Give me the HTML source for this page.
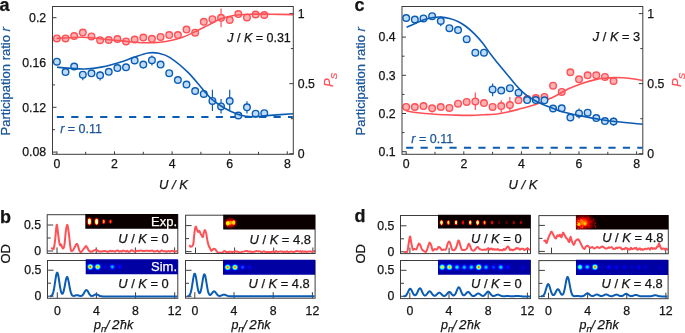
<!DOCTYPE html><html><head><meta charset="utf-8"><style>html,body{margin:0;padding:0;background:#fff;overflow:hidden}svg{display:block;will-change:transform}text{font-family:"Liberation Sans",sans-serif}</style></head><body><svg width="685" height="333" viewBox="0 0 685 333" font-family="&quot;Liberation Sans&quot;, sans-serif"><defs><filter id="fhot" x="-5%" y="-20%" width="110%" height="140%" color-interpolation-filters="sRGB"><feGaussianBlur stdDeviation="0.75"/><feComponentTransfer><feFuncR type="table" tableValues="0.042 0.124 0.206 0.288 0.370 0.452 0.534 0.616 0.698 0.780 0.862 0.944 1.000 1.000 1.000 1.000 1.000 1.000 1.000 1.000 1.000 1.000 1.000 1.000 1.000 1.000 1.000 1.000 1.000 1.000 1.000 1.000 1.000"/><feFuncG type="table" tableValues="0.000 0.000 0.000 0.000 0.000 0.000 0.000 0.000 0.000 0.000 0.000 0.000 0.027 0.110 0.193 0.277 0.360 0.443 0.527 0.610 0.693 0.777 0.860 0.943 1.000 1.000 1.000 1.000 1.000 1.000 1.000 1.000 1.000"/><feFuncB type="table" tableValues="0.000 0.000 0.000 0.000 0.000 0.000 0.000 0.000 0.000 0.000 0.000 0.000 0.000 0.000 0.000 0.000 0.000 0.000 0.000 0.000 0.000 0.000 0.000 0.000 0.038 0.159 0.279 0.399 0.519 0.639 0.760 0.880 1.000"/></feComponentTransfer></filter><filter id="fjet" x="-5%" y="-20%" width="110%" height="140%" color-interpolation-filters="sRGB"><feGaussianBlur stdDeviation="0.9"/><feComponentTransfer><feFuncR type="table" tableValues="0.000 0.000 0.000 0.000 0.000 0.000 0.000 0.000 0.000 0.000 0.000 0.000 0.087 0.208 0.329 0.449 0.570 0.691 0.811 0.932 1.000 1.000 1.000 1.000 1.000 1.000 1.000 1.000 0.982 0.862 0.741 0.621 0.500"/><feFuncG type="table" tableValues="0.000 0.000 0.000 0.002 0.123 0.243 0.364 0.484 0.605 0.726 0.846 0.967 1.000 1.000 1.000 1.000 1.000 1.000 1.000 1.000 0.947 0.827 0.706 0.586 0.465 0.344 0.224 0.103 0.000 0.000 0.000 0.000 0.000"/><feFuncB type="table" tableValues="0.640 0.761 0.881 1.000 1.000 1.000 1.000 1.000 1.000 1.000 1.000 1.000 0.913 0.792 0.671 0.551 0.430 0.309 0.189 0.068 0.000 0.000 0.000 0.000 0.000 0.000 0.000 0.000 0.000 0.000 0.000 0.000 0.000"/></feComponentTransfer></filter><clipPath id="ic1"><rect x="85.3" y="214.1" width="92.6" height="14.6"/></clipPath><clipPath id="ic2"><rect x="85.7" y="259.2" width="92.2" height="15.0"/></clipPath><clipPath id="ic3"><rect x="223.2" y="214.8" width="91.9" height="14.8"/></clipPath><clipPath id="ic4"><rect x="223.0" y="259.8" width="92.1" height="14.9"/></clipPath><clipPath id="ic5"><rect x="438.0" y="214.8" width="92.5" height="13.8"/></clipPath><clipPath id="ic6"><rect x="438.0" y="259.8" width="92.5" height="15.0"/></clipPath><clipPath id="ic7"><rect x="575.9" y="215.0" width="92.4" height="14.5"/></clipPath><clipPath id="ic8"><rect x="576.0" y="259.8" width="92.1" height="15.1"/></clipPath></defs>
<text x="46.2" y="22.0" font-size="12.3" text-anchor="end" fill="#141414" stroke="#141414" stroke-width="0.25">0.2</text>
<text x="46.2" y="66.8" font-size="12.3" text-anchor="end" fill="#141414" stroke="#141414" stroke-width="0.25">0.16</text>
<text x="46.2" y="111.6" font-size="12.3" text-anchor="end" fill="#141414" stroke="#141414" stroke-width="0.25">0.12</text>
<text x="46.2" y="156.4" font-size="12.3" text-anchor="end" fill="#141414" stroke="#141414" stroke-width="0.25">0.08</text>
<text x="297.8" y="17.9" font-size="12.3" text-anchor="start" fill="#141414" stroke="#141414" stroke-width="0.25">1</text>
<text x="297.8" y="87.95" font-size="12.3" text-anchor="start" fill="#141414" stroke="#141414" stroke-width="0.25">0.5</text>
<text x="297.8" y="158.0" font-size="12.3" text-anchor="start" fill="#141414" stroke="#141414" stroke-width="0.25">0</text>
<text x="56.9" y="168.4" font-size="12.3" text-anchor="middle" fill="#141414" stroke="#141414" stroke-width="0.25">0</text>
<text x="114.5" y="168.4" font-size="12.3" text-anchor="middle" fill="#141414" stroke="#141414" stroke-width="0.25">2</text>
<text x="172.1" y="168.4" font-size="12.3" text-anchor="middle" fill="#141414" stroke="#141414" stroke-width="0.25">4</text>
<text x="229.7" y="168.4" font-size="12.3" text-anchor="middle" fill="#141414" stroke="#141414" stroke-width="0.25">6</text>
<text x="287.3" y="168.4" font-size="12.3" text-anchor="middle" fill="#141414" stroke="#141414" stroke-width="0.25">8</text>
<path d="M52.5,17.7 h4 M52.5,62.5 h4 M52.5,107.3 h4 M52.5,152.1 h4 M52.5,40.1 h2.5 M52.5,84.9 h2.5 M52.5,129.7 h2.5 M293.3,13.6 h-4 M293.3,83.65 h-4 M293.3,153.7 h-4 M293.3,48.6 h-2.5 M293.3,118.7 h-2.5 M56.90,154.3 v-3 M85.70,154.3 v-2.5 M114.50,154.3 v-3 M143.30,154.3 v-2.5 M172.10,154.3 v-3 M200.90,154.3 v-2.5 M229.70,154.3 v-3 M258.50,154.3 v-2.5 M287.30,154.3 v-3" stroke="#3c3c3c" stroke-width="1" fill="none"/>
<path d="M56.80,117.0 H292.8" stroke="#0b5cb3" stroke-width="2" stroke-dasharray="7.2 7.25" fill="none"/>
<circle cx="56.90" cy="38.4" r="3.3" fill="#ffb1b4" stroke="#ff5055" stroke-width="1.4"/><circle cx="65.54" cy="38.4" r="3.3" fill="#ffb1b4" stroke="#ff5055" stroke-width="1.4"/><circle cx="74.18" cy="36.0" r="3.3" fill="#ffb1b4" stroke="#ff5055" stroke-width="1.4"/><circle cx="82.82" cy="32.6" r="3.3" fill="#ffb1b4" stroke="#ff5055" stroke-width="1.4"/><circle cx="91.46" cy="36.4" r="3.3" fill="#ffb1b4" stroke="#ff5055" stroke-width="1.4"/><circle cx="100.10" cy="40.2" r="3.3" fill="#ffb1b4" stroke="#ff5055" stroke-width="1.4"/><circle cx="108.74" cy="40.0" r="3.3" fill="#ffb1b4" stroke="#ff5055" stroke-width="1.4"/><circle cx="117.38" cy="39.1" r="3.3" fill="#ffb1b4" stroke="#ff5055" stroke-width="1.4"/><circle cx="126.02" cy="41.4" r="3.3" fill="#ffb1b4" stroke="#ff5055" stroke-width="1.4"/><circle cx="134.66" cy="39.6" r="3.3" fill="#ffb1b4" stroke="#ff5055" stroke-width="1.4"/><circle cx="143.30" cy="37.5" r="3.3" fill="#ffb1b4" stroke="#ff5055" stroke-width="1.4"/><circle cx="151.94" cy="38.8" r="3.3" fill="#ffb1b4" stroke="#ff5055" stroke-width="1.4"/><circle cx="160.58" cy="36.9" r="3.3" fill="#ffb1b4" stroke="#ff5055" stroke-width="1.4"/><circle cx="169.22" cy="35.1" r="3.3" fill="#ffb1b4" stroke="#ff5055" stroke-width="1.4"/><circle cx="177.86" cy="35.1" r="3.3" fill="#ffb1b4" stroke="#ff5055" stroke-width="1.4"/><circle cx="186.50" cy="29.6" r="3.3" fill="#ffb1b4" stroke="#ff5055" stroke-width="1.4"/><circle cx="195.14" cy="32.7" r="3.3" fill="#ffb1b4" stroke="#ff5055" stroke-width="1.4"/><circle cx="203.78" cy="21.8" r="3.3" fill="#ffb1b4" stroke="#ff5055" stroke-width="1.4"/><circle cx="212.42" cy="19.2" r="3.3" fill="#ffb1b4" stroke="#ff5055" stroke-width="1.4"/><path d="M221.06,8.6 V27.3" stroke="#ff5055" stroke-width="1.2"/><circle cx="221.06" cy="17.8" r="3.3" fill="#ffb1b4" stroke="#ff5055" stroke-width="1.4"/><circle cx="229.70" cy="20.1" r="3.3" fill="#ffb1b4" stroke="#ff5055" stroke-width="1.4"/><circle cx="238.34" cy="14.1" r="3.3" fill="#ffb1b4" stroke="#ff5055" stroke-width="1.4"/><circle cx="246.98" cy="17.4" r="3.3" fill="#ffb1b4" stroke="#ff5055" stroke-width="1.4"/><circle cx="255.62" cy="14.5" r="3.3" fill="#ffb1b4" stroke="#ff5055" stroke-width="1.4"/><circle cx="264.26" cy="15.0" r="3.3" fill="#ffb1b4" stroke="#ff5055" stroke-width="1.4"/>
<path d="M56.70,38.40 C58.87,38.28 65.35,37.90 69.70,37.70 C74.05,37.50 78.42,37.10 82.80,37.20 C87.18,37.30 91.63,37.88 96.00,38.30 C100.37,38.72 104.62,39.27 109.00,39.70 C113.38,40.13 117.97,40.48 122.30,40.90 C126.63,41.32 130.80,41.90 135.00,42.20 C139.20,42.50 143.33,42.70 147.50,42.70 C151.67,42.70 155.92,42.62 160.00,42.20 C164.08,41.78 168.23,41.03 172.00,40.20 C175.77,39.37 178.50,38.73 182.60,37.20 C186.70,35.67 192.23,33.05 196.60,31.00 C200.97,28.95 204.72,26.93 208.80,24.90 C212.88,22.87 216.72,20.40 221.10,18.80 C225.48,17.20 230.28,16.07 235.10,15.30 C239.92,14.53 244.18,14.38 250.00,14.20 C255.82,14.02 262.83,14.13 270.00,14.20 C277.17,14.27 289.17,14.53 293.00,14.60" stroke="#ff5055" stroke-width="1.6" fill="none"/>
<circle cx="56.90" cy="61.7" r="3.3" fill="#bddbfd" stroke="#0b5cb3" stroke-width="1.4"/><circle cx="65.54" cy="72.1" r="3.3" fill="#bddbfd" stroke="#0b5cb3" stroke-width="1.4"/><circle cx="74.18" cy="66.5" r="3.3" fill="#bddbfd" stroke="#0b5cb3" stroke-width="1.4"/><path d="M82.82,71.3 V80.2" stroke="#0b5cb3" stroke-width="1.2"/><circle cx="82.82" cy="74.7" r="3.3" fill="#bddbfd" stroke="#0b5cb3" stroke-width="1.4"/><circle cx="91.46" cy="73.3" r="3.3" fill="#bddbfd" stroke="#0b5cb3" stroke-width="1.4"/><path d="M100.10,71.3 V80.6" stroke="#0b5cb3" stroke-width="1.2"/><circle cx="100.10" cy="75.3" r="3.3" fill="#bddbfd" stroke="#0b5cb3" stroke-width="1.4"/><circle cx="108.74" cy="71.8" r="3.3" fill="#bddbfd" stroke="#0b5cb3" stroke-width="1.4"/><circle cx="117.38" cy="68.1" r="3.3" fill="#bddbfd" stroke="#0b5cb3" stroke-width="1.4"/><circle cx="126.02" cy="67.3" r="3.3" fill="#bddbfd" stroke="#0b5cb3" stroke-width="1.4"/><circle cx="134.66" cy="60.4" r="3.3" fill="#bddbfd" stroke="#0b5cb3" stroke-width="1.4"/><path d="M143.30,61.6 V68.6" stroke="#0b5cb3" stroke-width="1.2"/><circle cx="143.30" cy="64.6" r="3.3" fill="#bddbfd" stroke="#0b5cb3" stroke-width="1.4"/><path d="M151.94,55.4 V65.4" stroke="#0b5cb3" stroke-width="1.2"/><circle cx="151.94" cy="60.2" r="3.3" fill="#bddbfd" stroke="#0b5cb3" stroke-width="1.4"/><circle cx="160.58" cy="64.6" r="3.3" fill="#bddbfd" stroke="#0b5cb3" stroke-width="1.4"/><circle cx="169.22" cy="73.2" r="3.3" fill="#bddbfd" stroke="#0b5cb3" stroke-width="1.4"/><circle cx="177.86" cy="80.0" r="3.3" fill="#bddbfd" stroke="#0b5cb3" stroke-width="1.4"/><circle cx="186.50" cy="84.6" r="3.3" fill="#bddbfd" stroke="#0b5cb3" stroke-width="1.4"/><circle cx="195.14" cy="91.0" r="3.3" fill="#bddbfd" stroke="#0b5cb3" stroke-width="1.4"/><circle cx="203.78" cy="93.9" r="3.3" fill="#bddbfd" stroke="#0b5cb3" stroke-width="1.4"/><path d="M212.42,89.7 V111" stroke="#0b5cb3" stroke-width="1.2"/><circle cx="212.42" cy="100.9" r="3.3" fill="#bddbfd" stroke="#0b5cb3" stroke-width="1.4"/><path d="M221.06,99.1 V113.4" stroke="#0b5cb3" stroke-width="1.2"/><circle cx="221.06" cy="106.4" r="3.3" fill="#bddbfd" stroke="#0b5cb3" stroke-width="1.4"/><path d="M229.70,89.7 V110" stroke="#0b5cb3" stroke-width="1.2"/><circle cx="229.70" cy="101.0" r="3.3" fill="#bddbfd" stroke="#0b5cb3" stroke-width="1.4"/><circle cx="238.34" cy="115.5" r="3.3" fill="#bddbfd" stroke="#0b5cb3" stroke-width="1.4"/><path d="M246.98,101.3 V113.4" stroke="#0b5cb3" stroke-width="1.2"/><circle cx="246.98" cy="107.3" r="3.3" fill="#bddbfd" stroke="#0b5cb3" stroke-width="1.4"/><circle cx="255.62" cy="113.7" r="3.3" fill="#bddbfd" stroke="#0b5cb3" stroke-width="1.4"/><circle cx="264.26" cy="113.2" r="3.3" fill="#bddbfd" stroke="#0b5cb3" stroke-width="1.4"/>
<path d="M57.00,67.20 C58.75,67.35 62.83,67.80 67.50,68.10 C72.17,68.40 79.15,69.20 85.00,69.00 C90.85,68.80 96.77,68.03 102.60,66.90 C108.43,65.77 114.77,63.80 120.00,62.20 C125.23,60.60 129.33,58.83 134.00,57.30 C138.67,55.77 143.90,53.67 148.00,53.00 C152.10,52.33 154.93,52.53 158.60,53.30 C162.27,54.07 165.10,54.42 170.00,57.60 C174.90,60.78 182.37,66.90 188.00,72.40 C193.63,77.90 199.75,86.05 203.80,90.60 C207.85,95.15 208.82,96.77 212.30,99.70 C215.78,102.63 220.35,105.72 224.70,108.20 C229.05,110.68 234.75,113.23 238.40,114.60 C242.05,115.97 243.70,116.07 246.60,116.40 C249.50,116.73 251.90,116.77 255.80,116.60 C259.70,116.43 263.80,115.87 270.00,115.40 C276.20,114.93 289.17,114.07 293.00,113.80" stroke="#0b5cb3" stroke-width="1.6" fill="none"/>
<rect x="52.5" y="6.5" width="240.80" height="147.80" fill="none" stroke="#3c3c3c" stroke-width="1"/>
<text x="60.2" y="133" font-size="12.5" fill="#1c5699" stroke="#1c5699" stroke-width="0.25"><tspan font-style="italic">r</tspan> = 0.11</text>
<text x="290.8" y="41.9" font-size="12.5" fill="#141414" text-anchor="end" stroke="#141414" stroke-width="0.25"><tspan font-style="italic">J</tspan> / <tspan font-style="italic">K</tspan> = 0.31</text>
<text x="173.40" y="188.6" font-size="13" fill="#141414" text-anchor="middle" font-style="italic" stroke="#141414" stroke-width="0.25">U / K</text>
<text x="395.7" y="41.4" font-size="12.3" text-anchor="end" fill="#141414" stroke="#141414" stroke-width="0.25">0.4</text>
<text x="395.7" y="79.6" font-size="12.3" text-anchor="end" fill="#141414" stroke="#141414" stroke-width="0.25">0.3</text>
<text x="395.7" y="117.8" font-size="12.3" text-anchor="end" fill="#141414" stroke="#141414" stroke-width="0.25">0.2</text>
<text x="395.7" y="156.0" font-size="12.3" text-anchor="end" fill="#141414" stroke="#141414" stroke-width="0.25">0.1</text>
<text x="647.3" y="17.9" font-size="12.3" text-anchor="start" fill="#141414" stroke="#141414" stroke-width="0.25">1</text>
<text x="647.3" y="87.95" font-size="12.3" text-anchor="start" fill="#141414" stroke="#141414" stroke-width="0.25">0.5</text>
<text x="647.3" y="158.0" font-size="12.3" text-anchor="start" fill="#141414" stroke="#141414" stroke-width="0.25">0</text>
<text x="406.2" y="168.4" font-size="12.3" text-anchor="middle" fill="#141414" stroke="#141414" stroke-width="0.25">0</text>
<text x="463.8" y="168.4" font-size="12.3" text-anchor="middle" fill="#141414" stroke="#141414" stroke-width="0.25">2</text>
<text x="521.4" y="168.4" font-size="12.3" text-anchor="middle" fill="#141414" stroke="#141414" stroke-width="0.25">4</text>
<text x="579.0" y="168.4" font-size="12.3" text-anchor="middle" fill="#141414" stroke="#141414" stroke-width="0.25">6</text>
<text x="636.6" y="168.4" font-size="12.3" text-anchor="middle" fill="#141414" stroke="#141414" stroke-width="0.25">8</text>
<path d="M402.0,37.1 h4 M402.0,75.3 h4 M402.0,113.5 h4 M402.0,151.7 h4 M402.0,56.2 h2.5 M402.0,94.4 h2.5 M402.0,132.6 h2.5 M642.8,13.6 h-4 M642.8,83.65 h-4 M642.8,153.7 h-4 M642.8,48.6 h-2.5 M642.8,118.7 h-2.5 M406.20,154.3 v-3 M435.00,154.3 v-2.5 M463.80,154.3 v-3 M492.60,154.3 v-2.5 M521.40,154.3 v-3 M550.20,154.3 v-2.5 M579.00,154.3 v-3 M607.80,154.3 v-2.5 M636.60,154.3 v-3" stroke="#3c3c3c" stroke-width="1" fill="none"/>
<path d="M406.10,147.8 H642.3" stroke="#0b5cb3" stroke-width="2" stroke-dasharray="7.2 7.25" fill="none"/>
<circle cx="406.20" cy="106.9" r="3.3" fill="#ffb1b4" stroke="#ff5055" stroke-width="1.4"/><circle cx="414.84" cy="107.0" r="3.3" fill="#ffb1b4" stroke="#ff5055" stroke-width="1.4"/><circle cx="423.48" cy="106.1" r="3.3" fill="#ffb1b4" stroke="#ff5055" stroke-width="1.4"/><path d="M432.12,104.9 V112.4" stroke="#ff5055" stroke-width="1.2"/><circle cx="432.12" cy="108.3" r="3.3" fill="#ffb1b4" stroke="#ff5055" stroke-width="1.4"/><circle cx="440.76" cy="107.0" r="3.3" fill="#ffb1b4" stroke="#ff5055" stroke-width="1.4"/><circle cx="449.40" cy="107.9" r="3.3" fill="#ffb1b4" stroke="#ff5055" stroke-width="1.4"/><circle cx="458.04" cy="103.7" r="3.3" fill="#ffb1b4" stroke="#ff5055" stroke-width="1.4"/><circle cx="466.68" cy="101.9" r="3.3" fill="#ffb1b4" stroke="#ff5055" stroke-width="1.4"/><path d="M475.32,92.6 V110.1" stroke="#ff5055" stroke-width="1.2"/><circle cx="475.32" cy="101.4" r="3.3" fill="#ffb1b4" stroke="#ff5055" stroke-width="1.4"/><circle cx="483.96" cy="103.1" r="3.3" fill="#ffb1b4" stroke="#ff5055" stroke-width="1.4"/><circle cx="492.60" cy="106.9" r="3.3" fill="#ffb1b4" stroke="#ff5055" stroke-width="1.4"/><path d="M501.24,100.2 V112.8" stroke="#ff5055" stroke-width="1.2"/><circle cx="501.24" cy="106.1" r="3.3" fill="#ffb1b4" stroke="#ff5055" stroke-width="1.4"/><path d="M509.88,97 V111.9" stroke="#ff5055" stroke-width="1.2"/><circle cx="509.88" cy="105.0" r="3.3" fill="#ffb1b4" stroke="#ff5055" stroke-width="1.4"/><circle cx="518.52" cy="100.3" r="3.3" fill="#ffb1b4" stroke="#ff5055" stroke-width="1.4"/><circle cx="527.16" cy="99.0" r="3.3" fill="#ffb1b4" stroke="#ff5055" stroke-width="1.4"/><circle cx="535.80" cy="98.0" r="3.3" fill="#ffb1b4" stroke="#ff5055" stroke-width="1.4"/><circle cx="544.44" cy="96.9" r="3.3" fill="#ffb1b4" stroke="#ff5055" stroke-width="1.4"/><circle cx="553.08" cy="85.7" r="3.3" fill="#ffb1b4" stroke="#ff5055" stroke-width="1.4"/><circle cx="561.72" cy="91.9" r="3.3" fill="#ffb1b4" stroke="#ff5055" stroke-width="1.4"/><circle cx="570.36" cy="72.3" r="3.3" fill="#ffb1b4" stroke="#ff5055" stroke-width="1.4"/><circle cx="579.00" cy="79.3" r="3.3" fill="#ffb1b4" stroke="#ff5055" stroke-width="1.4"/><circle cx="587.64" cy="75.3" r="3.3" fill="#ffb1b4" stroke="#ff5055" stroke-width="1.4"/><circle cx="596.28" cy="75.3" r="3.3" fill="#ffb1b4" stroke="#ff5055" stroke-width="1.4"/><circle cx="604.92" cy="76.9" r="3.3" fill="#ffb1b4" stroke="#ff5055" stroke-width="1.4"/><circle cx="613.56" cy="81.0" r="3.3" fill="#ffb1b4" stroke="#ff5055" stroke-width="1.4"/>
<path d="M406.20,110.80 C408.08,111.13 412.70,112.23 417.50,112.80 C422.30,113.37 429.15,113.83 435.00,114.20 C440.85,114.57 446.77,114.80 452.60,115.00 C458.43,115.20 464.17,115.47 470.00,115.40 C475.83,115.33 483.10,114.83 487.60,114.60 C492.10,114.37 493.43,114.47 497.00,114.00 C500.57,113.53 505.00,112.70 509.00,111.80 C513.00,110.90 517.00,109.68 521.00,108.60 C525.00,107.52 529.00,106.63 533.00,105.30 C537.00,103.97 541.33,102.12 545.00,100.60 C548.67,99.08 551.08,98.17 555.00,96.20 C558.92,94.23 564.00,90.93 568.50,88.80 C573.00,86.67 577.50,84.93 582.00,83.40 C586.50,81.87 591.67,80.47 595.50,79.60 C599.33,78.73 601.83,78.53 605.00,78.20 C608.17,77.87 611.57,77.67 614.50,77.60 C617.43,77.53 619.02,77.52 622.60,77.80 C626.18,78.08 632.67,78.85 636.00,79.30 C639.33,79.75 641.50,80.30 642.60,80.50" stroke="#ff5055" stroke-width="1.6" fill="none"/>
<circle cx="406.20" cy="18.0" r="3.3" fill="#bddbfd" stroke="#0b5cb3" stroke-width="1.4"/><circle cx="414.84" cy="19.5" r="3.3" fill="#bddbfd" stroke="#0b5cb3" stroke-width="1.4"/><circle cx="423.48" cy="18.4" r="3.3" fill="#bddbfd" stroke="#0b5cb3" stroke-width="1.4"/><circle cx="432.12" cy="16.2" r="3.3" fill="#bddbfd" stroke="#0b5cb3" stroke-width="1.4"/><path d="M440.76,16.2 V26.2" stroke="#0b5cb3" stroke-width="1.2"/><circle cx="440.76" cy="21.0" r="3.3" fill="#bddbfd" stroke="#0b5cb3" stroke-width="1.4"/><circle cx="449.40" cy="28.2" r="3.3" fill="#bddbfd" stroke="#0b5cb3" stroke-width="1.4"/><circle cx="458.04" cy="30.1" r="3.3" fill="#bddbfd" stroke="#0b5cb3" stroke-width="1.4"/><circle cx="466.68" cy="39.2" r="3.3" fill="#bddbfd" stroke="#0b5cb3" stroke-width="1.4"/><circle cx="475.32" cy="52.7" r="3.3" fill="#bddbfd" stroke="#0b5cb3" stroke-width="1.4"/><circle cx="483.96" cy="52.7" r="3.3" fill="#bddbfd" stroke="#0b5cb3" stroke-width="1.4"/><path d="M492.60,83.4 V96.2" stroke="#0b5cb3" stroke-width="1.2"/><circle cx="492.60" cy="89.4" r="3.3" fill="#bddbfd" stroke="#0b5cb3" stroke-width="1.4"/><circle cx="501.24" cy="90.6" r="3.3" fill="#bddbfd" stroke="#0b5cb3" stroke-width="1.4"/><circle cx="509.88" cy="88.2" r="3.3" fill="#bddbfd" stroke="#0b5cb3" stroke-width="1.4"/><circle cx="518.52" cy="92.7" r="3.3" fill="#bddbfd" stroke="#0b5cb3" stroke-width="1.4"/><circle cx="527.16" cy="100.1" r="3.3" fill="#bddbfd" stroke="#0b5cb3" stroke-width="1.4"/><circle cx="535.80" cy="100.1" r="3.3" fill="#bddbfd" stroke="#0b5cb3" stroke-width="1.4"/><circle cx="544.44" cy="100.3" r="3.3" fill="#bddbfd" stroke="#0b5cb3" stroke-width="1.4"/><circle cx="553.08" cy="108.5" r="3.3" fill="#bddbfd" stroke="#0b5cb3" stroke-width="1.4"/><circle cx="561.72" cy="108.3" r="3.3" fill="#bddbfd" stroke="#0b5cb3" stroke-width="1.4"/><circle cx="570.36" cy="117.5" r="3.3" fill="#bddbfd" stroke="#0b5cb3" stroke-width="1.4"/><path d="M579.00,108.5 V118.4" stroke="#0b5cb3" stroke-width="1.2"/><circle cx="579.00" cy="113.4" r="3.3" fill="#bddbfd" stroke="#0b5cb3" stroke-width="1.4"/><circle cx="587.64" cy="112.7" r="3.3" fill="#bddbfd" stroke="#0b5cb3" stroke-width="1.4"/><circle cx="596.28" cy="118.1" r="3.3" fill="#bddbfd" stroke="#0b5cb3" stroke-width="1.4"/><circle cx="604.92" cy="121.1" r="3.3" fill="#bddbfd" stroke="#0b5cb3" stroke-width="1.4"/><path d="M613.56,117.5 V125.6" stroke="#0b5cb3" stroke-width="1.2"/><circle cx="613.56" cy="121.5" r="3.3" fill="#bddbfd" stroke="#0b5cb3" stroke-width="1.4"/>
<path d="M406.60,27.30 C408.25,26.57 413.47,24.18 416.50,22.90 C419.53,21.62 422.05,20.50 424.80,19.60 C427.55,18.70 430.25,17.92 433.00,17.50 C435.75,17.08 438.53,16.92 441.30,17.10 C444.07,17.28 446.83,17.87 449.60,18.60 C452.37,19.33 455.15,20.18 457.90,21.50 C460.65,22.82 463.35,24.43 466.10,26.50 C468.85,28.57 471.65,31.15 474.40,33.90 C477.15,36.65 479.85,39.55 482.60,43.00 C485.35,46.45 488.43,51.30 490.90,54.60 C493.37,57.90 494.80,59.62 497.40,62.80 C500.00,65.98 503.47,70.05 506.50,73.70 C509.53,77.35 512.57,81.35 515.60,84.70 C518.63,88.05 521.65,91.25 524.70,93.80 C527.75,96.35 530.85,98.20 533.90,100.00 C536.95,101.80 539.97,103.27 543.00,104.60 C546.03,105.93 548.77,106.75 552.10,108.00 C555.43,109.25 558.18,110.78 563.00,112.10 C567.82,113.42 575.00,114.72 581.00,115.90 C587.00,117.08 593.00,118.23 599.00,119.20 C605.00,120.17 609.73,120.87 617.00,121.70 C624.27,122.53 638.33,123.78 642.60,124.20" stroke="#0b5cb3" stroke-width="1.6" fill="none"/>
<rect x="402.0" y="6.5" width="240.80" height="147.80" fill="none" stroke="#3c3c3c" stroke-width="1"/>
<text x="411.3" y="142.6" font-size="12.5" fill="#1c5699" stroke="#1c5699" stroke-width="0.25"><tspan font-style="italic">r</tspan> = 0.11</text>
<text x="640.2" y="41.0" font-size="12.8" fill="#141414" text-anchor="end" stroke="#141414" stroke-width="0.25"><tspan font-style="italic">J</tspan> / <tspan font-style="italic">K</tspan> = 3</text>
<text x="522.90" y="188.6" font-size="13" fill="#141414" text-anchor="middle" font-style="italic" stroke="#141414" stroke-width="0.25">U / K</text>
<text transform="translate(9.6,135.5) rotate(-90)" font-size="13" fill="#1c5699" stroke="#1c5699" stroke-width="0.25">Participation ratio <tspan font-style="italic">r</tspan></text>
<text transform="translate(364.7,135.5) rotate(-90)" font-size="13" fill="#1c5699" stroke="#1c5699" stroke-width="0.25">Participation ratio <tspan font-style="italic">r</tspan></text>
<text transform="translate(333,86.9) rotate(-90)" font-size="13" fill="#ff4f5a" font-style="italic" stroke="#ff4f5a" stroke-width="0.25">P<tspan font-size="9.6" dx="-1.1" dy="3.5">S</tspan></text>
<text transform="translate(681.4,86.9) rotate(-90)" font-size="13" fill="#ff4f5a" font-style="italic" stroke="#ff4f5a" stroke-width="0.25">P<tspan font-size="9.6" dx="-1.1" dy="3.5">S</tspan></text>
<text x="-0.4" y="10.8" font-size="18" text-anchor="start" fill="#141414" stroke="#141414" stroke-width="0.25" font-weight="bold">a</text>
<text x="354.5" y="10.8" font-size="18" text-anchor="start" fill="#141414" stroke="#141414" stroke-width="0.25" font-weight="bold">c</text>
<text x="0" y="223" font-size="18" text-anchor="start" fill="#141414" stroke="#141414" stroke-width="0.25" font-weight="bold">b</text>
<text x="354.6" y="222.2" font-size="18" text-anchor="start" fill="#141414" stroke="#141414" stroke-width="0.25" font-weight="bold">d</text>
<text x="41.0" y="229.1" font-size="12.3" text-anchor="end" fill="#141414" stroke="#141414" stroke-width="0.25">0.5</text>
<text x="41.0" y="255.1" font-size="12.3" text-anchor="end" fill="#141414" stroke="#141414" stroke-width="0.25">0</text>
<path d="M47.2,225.00 h6 M47.2,238.00 h3.5 M47.2,251.00 h6 M57.00,253.4 v-6 M96.20,253.4 v-6 M135.40,253.4 v-6 M174.60,253.4 v-6" stroke="#3c3c3c" stroke-width="1" fill="none"/>
<path d="M51.10,248.00 C51.35,248.13 52.15,248.73 52.60,248.80 C53.05,248.87 53.38,249.83 53.80,248.40 C54.22,246.97 54.63,244.05 55.10,240.20 C55.57,236.35 56.18,227.12 56.60,225.30 C57.02,223.48 57.22,226.82 57.60,229.30 C57.98,231.78 58.48,237.53 58.90,240.20 C59.32,242.87 59.73,244.57 60.10,245.30 C60.47,246.03 60.78,244.30 61.10,244.60 C61.42,244.90 61.63,246.47 62.00,247.10 C62.37,247.73 62.88,248.82 63.30,248.40 C63.72,247.98 64.08,247.43 64.50,244.60 C64.92,241.77 65.37,234.68 65.80,231.40 C66.23,228.12 66.68,225.25 67.10,224.90 C67.52,224.55 67.88,226.75 68.30,229.30 C68.72,231.85 69.18,236.80 69.60,240.20 C70.02,243.60 70.38,247.92 70.80,249.70 C71.22,251.48 71.67,250.90 72.10,250.90 C72.53,250.90 72.87,250.53 73.40,249.70 C73.93,248.87 74.73,246.90 75.30,245.90 C75.87,244.90 76.35,243.70 76.80,243.70 C77.25,243.70 77.58,244.80 78.00,245.90 C78.42,247.00 78.82,249.25 79.30,250.30 C79.78,251.35 80.42,252.10 80.90,252.20 C81.38,252.30 81.67,251.53 82.20,250.90 C82.73,250.27 83.47,249.23 84.10,248.40 C84.73,247.57 85.42,245.90 86.00,245.90 C86.58,245.90 87.08,247.57 87.60,248.40 C88.12,249.23 88.43,250.37 89.10,250.90 C89.77,251.43 90.75,251.70 91.60,251.60 C92.45,251.50 93.45,250.62 94.20,250.30 C94.95,249.98 95.48,249.60 96.10,249.70 C96.72,249.80 97.17,250.58 97.90,250.90 C98.63,251.22 99.32,251.60 100.50,251.60 C101.68,251.60 103.86,250.89 105.00,250.90 C106.14,250.91 106.71,251.57 107.32,251.68 C107.93,251.79 108.20,251.70 108.64,251.56 C109.08,251.42 109.52,250.91 109.96,250.85 C110.40,250.78 110.84,251.13 111.28,251.18 C111.72,251.22 112.16,251.08 112.60,251.11 C113.04,251.15 113.48,251.31 113.92,251.39 C114.36,251.47 114.80,251.71 115.24,251.58 C115.68,251.45 116.12,250.78 116.56,250.60 C117.00,250.42 117.44,250.33 117.88,250.51 C118.32,250.68 118.76,251.54 119.20,251.63 C119.64,251.73 120.08,251.08 120.52,251.07 C120.96,251.05 121.40,251.62 121.84,251.52 C122.28,251.42 122.72,250.53 123.16,250.45 C123.60,250.38 124.05,250.91 124.49,251.07 C124.93,251.24 125.37,251.51 125.81,251.45 C126.25,251.40 126.69,250.71 127.13,250.76 C127.57,250.81 128.01,251.60 128.45,251.76 C128.89,251.92 129.33,251.91 129.77,251.70 C130.21,251.48 130.65,250.68 131.09,250.47 C131.53,250.27 131.97,250.34 132.41,250.46 C132.85,250.58 133.29,250.97 133.73,251.18 C134.17,251.39 134.61,251.77 135.05,251.73 C135.49,251.69 135.93,251.12 136.37,250.95 C136.81,250.78 137.25,250.71 137.69,250.71 C138.13,250.72 138.57,251.04 139.01,251.00 C139.45,250.95 139.89,250.49 140.33,250.44 C140.77,250.40 141.21,250.62 141.65,250.71 C142.09,250.80 142.53,250.95 142.97,251.01 C143.41,251.07 143.85,251.14 144.29,251.09 C144.73,251.04 145.17,250.78 145.61,250.72 C146.05,250.65 146.49,250.71 146.93,250.71 C147.37,250.70 147.81,250.64 148.25,250.69 C148.69,250.74 149.13,251.01 149.57,251.02 C150.01,251.04 150.45,250.88 150.89,250.78 C151.33,250.68 151.77,250.27 152.21,250.40 C152.65,250.53 153.09,251.42 153.53,251.54 C153.97,251.66 154.41,251.19 154.85,251.14 C155.29,251.10 155.73,251.35 156.17,251.26 C156.61,251.17 157.05,250.54 157.49,250.62 C157.93,250.70 158.37,251.59 158.81,251.74 C159.25,251.90 159.70,251.76 160.14,251.55 C160.58,251.35 161.02,250.64 161.46,250.51 C161.90,250.39 162.34,250.67 162.78,250.81 C163.22,250.95 163.66,251.26 164.10,251.35 C164.54,251.43 164.98,251.28 165.42,251.33 C165.86,251.38 166.30,251.71 166.74,251.64 C167.18,251.57 167.62,250.94 168.06,250.92 C168.50,250.89 168.94,251.43 169.38,251.48 C169.82,251.54 170.26,251.38 170.70,251.26 C171.14,251.13 171.58,250.76 172.02,250.74 C172.46,250.72 172.90,251.00 173.34,251.13 C173.78,251.27 174.22,251.48 174.66,251.54 C175.10,251.60 175.54,251.58 175.98,251.49 C176.42,251.40 177.08,251.08 177.30,251.00" stroke="#ff5055" stroke-width="2" fill="none" stroke-linejoin="round"/>
<rect x="47.2" y="214.7" width="130.60" height="38.70" fill="none" stroke="#3c3c3c" stroke-width="1"/>
<g clip-path="url(#ic1)"><g filter="url(#fhot)"><rect x="79.3" y="208.1" width="104.6" height="26.6" fill="#000"/><ellipse cx="89.4" cy="221.6" rx="2.61" ry="4.050000000000001" fill="rgb(76,76,76)" style="mix-blend-mode:lighten"/><ellipse cx="89.4" cy="221.6" rx="1.45" ry="3.0" fill="rgb(255,255,255)" style="mix-blend-mode:lighten"/><ellipse cx="96.6" cy="221.6" rx="2.43" ry="3.78" fill="rgb(76,76,76)" style="mix-blend-mode:lighten"/><ellipse cx="96.6" cy="221.6" rx="1.35" ry="2.8" fill="rgb(255,255,255)" style="mix-blend-mode:lighten"/><ellipse cx="103.7" cy="221.6" rx="1.8" ry="2.565" fill="rgb(71,71,71)" style="mix-blend-mode:lighten"/><ellipse cx="103.7" cy="221.6" rx="1.0" ry="1.9" fill="rgb(158,158,158)" style="mix-blend-mode:lighten"/><ellipse cx="110.5" cy="221.6" rx="1.62" ry="2.295" fill="rgb(60,60,60)" style="mix-blend-mode:lighten"/><ellipse cx="110.5" cy="221.6" rx="0.9" ry="1.7" fill="rgb(133,133,133)" style="mix-blend-mode:lighten"/></g></g>
<text x="177.00" y="225.50" font-size="13" fill="#fff" text-anchor="end" stroke="#fff" stroke-width="0.25">Exp.</text>
<text x="168.8" y="243.1" font-size="12.9" fill="#141414" text-anchor="end" stroke="#141414" stroke-width="0.25"><tspan font-style="italic">U</tspan> / <tspan font-style="italic">K</tspan> = 0</text>
<text x="41.3" y="274.3" font-size="12.3" text-anchor="end" fill="#141414" stroke="#141414" stroke-width="0.25">0.5</text>
<text x="41.3" y="300.3" font-size="12.3" text-anchor="end" fill="#141414" stroke="#141414" stroke-width="0.25">0</text>
<text x="57.3" y="314.5" font-size="12.3" text-anchor="middle" fill="#141414" stroke="#141414" stroke-width="0.25">0</text>
<text x="96.42" y="314.5" font-size="12.3" text-anchor="middle" fill="#141414" stroke="#141414" stroke-width="0.25">4</text>
<text x="135.54" y="314.5" font-size="12.3" text-anchor="middle" fill="#141414" stroke="#141414" stroke-width="0.25">8</text>
<text x="174.66" y="314.5" font-size="12.3" text-anchor="middle" fill="#141414" stroke="#141414" stroke-width="0.25">12</text>
<path d="M47.5,270.20 h6 M47.5,283.20 h3.5 M47.5,296.20 h6 M57.30,298.3 v-6 M96.42,298.3 v-6 M135.54,298.3 v-6 M174.66,298.3 v-6" stroke="#3c3c3c" stroke-width="1" fill="none"/>
<path d="M50.00,296.34 C50.08,296.33 50.33,296.30 50.50,296.26 C50.67,296.22 50.83,296.18 51.00,296.10 C51.17,296.03 51.33,295.94 51.50,295.81 C51.67,295.68 51.83,295.53 52.00,295.30 C52.17,295.07 52.33,294.81 52.50,294.46 C52.67,294.11 52.83,293.70 53.00,293.19 C53.17,292.68 53.33,292.08 53.50,291.37 C53.67,290.66 53.83,289.85 54.00,288.95 C54.17,288.05 54.33,287.04 54.50,285.99 C54.67,284.94 54.83,283.78 55.00,282.66 C55.17,281.54 55.33,280.33 55.50,279.25 C55.67,278.17 55.83,277.08 56.00,276.19 C56.17,275.30 56.33,274.47 56.50,273.89 C56.67,273.31 56.83,272.88 57.00,272.71 C57.17,272.53 57.33,272.58 57.50,272.84 C57.67,273.10 57.83,273.62 58.00,274.27 C58.17,274.92 58.33,275.81 58.50,276.75 C58.67,277.69 58.83,278.82 59.00,279.91 C59.17,281.00 59.33,282.20 59.50,283.31 C59.67,284.42 59.83,285.56 60.00,286.56 C60.17,287.56 60.33,288.52 60.50,289.34 C60.67,290.16 60.83,290.89 61.00,291.49 C61.17,292.09 61.33,292.57 61.50,292.93 C61.67,293.29 61.83,293.52 62.00,293.64 C62.17,293.76 62.33,293.77 62.50,293.66 C62.67,293.55 62.83,293.33 63.00,293.00 C63.17,292.67 63.33,292.22 63.50,291.68 C63.67,291.14 63.83,290.48 64.00,289.75 C64.17,289.02 64.33,288.19 64.50,287.33 C64.67,286.47 64.83,285.52 65.00,284.61 C65.17,283.70 65.33,282.74 65.50,281.88 C65.67,281.02 65.83,280.16 66.00,279.48 C66.17,278.80 66.33,278.19 66.50,277.78 C66.67,277.37 66.83,277.09 67.00,277.02 C67.17,276.95 67.33,277.07 67.50,277.35 C67.67,277.63 67.83,278.11 68.00,278.70 C68.17,279.29 68.33,280.07 68.50,280.87 C68.67,281.67 68.83,282.61 69.00,283.52 C69.17,284.43 69.33,285.41 69.50,286.31 C69.67,287.21 69.83,288.11 70.00,288.92 C70.17,289.73 70.33,290.49 70.50,291.16 C70.67,291.83 70.83,292.42 71.00,292.93 C71.17,293.44 71.33,293.85 71.50,294.21 C71.67,294.56 71.83,294.83 72.00,295.06 C72.17,295.29 72.33,295.45 72.50,295.58 C72.67,295.71 72.83,295.78 73.00,295.84 C73.17,295.90 73.33,295.91 73.50,295.92 C73.67,295.93 73.83,295.90 74.00,295.88 C74.17,295.86 74.33,295.81 74.50,295.77 C74.67,295.73 74.83,295.67 75.00,295.62 C75.17,295.57 75.33,295.52 75.50,295.47 C75.67,295.42 75.83,295.37 76.00,295.33 C76.17,295.29 76.33,295.25 76.50,295.23 C76.67,295.21 76.83,295.20 77.00,295.20 C77.17,295.20 77.33,295.21 77.50,295.23 C77.67,295.25 77.83,295.29 78.00,295.33 C78.17,295.37 78.33,295.42 78.50,295.47 C78.67,295.52 78.83,295.58 79.00,295.63 C79.17,295.68 79.33,295.73 79.50,295.78 C79.67,295.83 79.83,295.88 80.00,295.91 C80.17,295.94 80.33,295.97 80.50,295.98 C80.67,295.99 80.83,296.00 81.00,295.98 C81.17,295.96 81.33,295.93 81.50,295.87 C81.67,295.81 81.83,295.73 82.00,295.62 C82.17,295.51 82.33,295.39 82.50,295.23 C82.67,295.07 82.83,294.88 83.00,294.66 C83.17,294.44 83.33,294.19 83.50,293.93 C83.67,293.67 83.83,293.37 84.00,293.07 C84.17,292.77 84.33,292.45 84.50,292.15 C84.67,291.85 84.83,291.54 85.00,291.28 C85.17,291.01 85.33,290.75 85.50,290.56 C85.67,290.37 85.83,290.21 86.00,290.12 C86.17,290.03 86.33,289.99 86.50,290.01 C86.67,290.03 86.83,290.12 87.00,290.26 C87.17,290.39 87.33,290.59 87.50,290.82 C87.67,291.05 87.83,291.33 88.00,291.61 C88.17,291.89 88.33,292.22 88.50,292.52 C88.67,292.82 88.83,293.14 89.00,293.43 C89.17,293.72 89.33,293.99 89.50,294.24 C89.67,294.49 89.83,294.72 90.00,294.91 C90.17,295.11 90.33,295.27 90.50,295.41 C90.67,295.55 90.83,295.66 91.00,295.74 C91.17,295.82 91.33,295.88 91.50,295.92 C91.67,295.96 91.83,295.97 92.00,295.97 C92.17,295.97 92.33,295.94 92.50,295.90 C92.67,295.86 92.83,295.81 93.00,295.75 C93.17,295.69 93.33,295.60 93.50,295.52 C93.67,295.44 93.83,295.34 94.00,295.24 C94.17,295.14 94.33,295.03 94.50,294.94 C94.67,294.85 94.83,294.75 95.00,294.67 C95.17,294.59 95.33,294.51 95.50,294.45 C95.67,294.39 95.83,294.34 96.00,294.32 C96.17,294.30 96.33,294.30 96.50,294.31 C96.67,294.32 96.83,294.36 97.00,294.41 C97.17,294.46 97.33,294.54 97.50,294.62 C97.67,294.70 97.83,294.79 98.00,294.89 C98.17,294.99 98.33,295.09 98.50,295.19 C98.67,295.29 98.83,295.40 99.00,295.49 C99.17,295.58 99.33,295.67 99.50,295.75 C99.67,295.83 99.83,295.90 100.00,295.96 C100.17,296.02 100.33,296.07 100.50,296.12 C100.67,296.17 100.83,296.21 101.00,296.24 C101.17,296.27 101.33,296.29 101.50,296.31 C101.67,296.33 101.83,296.35 102.00,296.36 C102.17,296.37 102.33,296.37 102.50,296.38 C102.67,296.39 102.83,296.40 103.00,296.40 C103.17,296.40 103.33,296.40 103.50,296.40 C103.67,296.40 103.83,296.41 104.00,296.41 C104.17,296.41 104.33,296.41 104.50,296.41 C104.67,296.41 104.83,296.41 105.00,296.41 C105.17,296.41 105.33,296.41 105.50,296.41 C105.67,296.41 105.83,296.41 106.00,296.41 C106.17,296.41 106.33,296.41 106.50,296.41 C106.67,296.41 106.83,296.41 107.00,296.41 C107.17,296.41 107.33,296.41 107.50,296.41 C107.67,296.41 107.83,296.41 108.00,296.41 C108.17,296.41 108.33,296.41 108.50,296.41 C108.67,296.41 108.83,296.41 109.00,296.41 C109.17,296.41 109.33,296.41 109.50,296.41 C109.67,296.41 109.83,296.41 110.00,296.41 C110.17,296.41 110.33,296.41 110.50,296.41 C110.67,296.41 110.83,296.41 111.00,296.41 C111.17,296.41 111.33,296.41 111.50,296.41 C111.67,296.41 111.83,296.41 112.00,296.41 C112.17,296.41 112.33,296.41 112.50,296.41 C112.67,296.41 112.83,296.41 113.00,296.41 C113.17,296.41 113.33,296.41 113.50,296.41 C113.67,296.41 113.83,296.41 114.00,296.41 C114.17,296.41 114.33,296.41 114.50,296.41 C114.67,296.41 114.83,296.41 115.00,296.41 C115.17,296.41 115.33,296.41 115.50,296.41 C115.67,296.41 115.83,296.41 116.00,296.41 C116.17,296.41 116.33,296.41 116.50,296.41 C116.67,296.41 116.83,296.41 117.00,296.41 C117.17,296.41 117.33,296.41 117.50,296.41 C117.67,296.41 117.83,296.41 118.00,296.41 C118.17,296.41 118.33,296.41 118.50,296.41 C118.67,296.41 118.83,296.41 119.00,296.41 C119.17,296.41 119.33,296.41 119.50,296.41 C119.67,296.41 119.83,296.41 120.00,296.41 C120.17,296.41 120.33,296.41 120.50,296.41 C120.67,296.41 120.83,296.41 121.00,296.41 C121.17,296.41 121.33,296.41 121.50,296.41 C121.67,296.41 121.83,296.41 122.00,296.41 C122.17,296.41 122.33,296.41 122.50,296.41 C122.67,296.41 122.83,296.41 123.00,296.41 C123.17,296.41 123.33,296.41 123.50,296.41 C123.67,296.41 123.83,296.41 124.00,296.41 C124.17,296.41 124.33,296.41 124.50,296.41 C124.67,296.41 124.83,296.41 125.00,296.41 C125.17,296.41 125.33,296.41 125.50,296.41 C125.67,296.41 125.83,296.41 126.00,296.41 C126.17,296.41 126.33,296.41 126.50,296.41 C126.67,296.41 126.83,296.41 127.00,296.41 C127.17,296.41 127.33,296.41 127.50,296.41 C127.67,296.41 127.83,296.41 128.00,296.41 C128.17,296.41 128.33,296.41 128.50,296.41 C128.67,296.41 128.83,296.41 129.00,296.41 C129.17,296.41 129.33,296.41 129.50,296.41 C129.67,296.41 129.83,296.41 130.00,296.41 C130.17,296.41 130.33,296.41 130.50,296.41 C130.67,296.41 130.83,296.41 131.00,296.41 C131.17,296.41 131.33,296.41 131.50,296.41 C131.67,296.41 131.83,296.41 132.00,296.41 C132.17,296.41 132.33,296.41 132.50,296.41 C132.67,296.41 132.83,296.41 133.00,296.41 C133.17,296.41 133.33,296.41 133.50,296.41 C133.67,296.41 133.83,296.41 134.00,296.41 C134.17,296.41 134.33,296.41 134.50,296.41 C134.67,296.41 134.83,296.41 135.00,296.41 C135.17,296.41 135.33,296.41 135.50,296.41 C135.67,296.41 135.83,296.41 136.00,296.41 C136.17,296.41 136.33,296.41 136.50,296.41 C136.67,296.41 136.83,296.41 137.00,296.41 C137.17,296.41 137.33,296.41 137.50,296.41 C137.67,296.41 137.83,296.41 138.00,296.41 C138.17,296.41 138.33,296.41 138.50,296.41 C138.67,296.41 138.83,296.41 139.00,296.41 C139.17,296.41 139.33,296.41 139.50,296.41 C139.67,296.41 139.83,296.41 140.00,296.41 C140.17,296.41 140.33,296.41 140.50,296.41 C140.67,296.41 140.83,296.41 141.00,296.41 C141.17,296.41 141.33,296.41 141.50,296.41 C141.67,296.41 141.83,296.41 142.00,296.41 C142.17,296.41 142.33,296.41 142.50,296.41 C142.67,296.41 142.83,296.41 143.00,296.41 C143.17,296.41 143.33,296.41 143.50,296.41 C143.67,296.41 143.83,296.41 144.00,296.41 C144.17,296.41 144.33,296.41 144.50,296.41 C144.67,296.41 144.83,296.41 145.00,296.41 C145.17,296.41 145.33,296.41 145.50,296.41 C145.67,296.41 145.83,296.41 146.00,296.41 C146.17,296.41 146.33,296.41 146.50,296.41 C146.67,296.41 146.83,296.41 147.00,296.41 C147.17,296.41 147.33,296.41 147.50,296.41 C147.67,296.41 147.83,296.41 148.00,296.41 C148.17,296.41 148.33,296.41 148.50,296.41 C148.67,296.41 148.83,296.41 149.00,296.41 C149.17,296.41 149.33,296.41 149.50,296.41 C149.67,296.41 149.83,296.41 150.00,296.41 C150.17,296.41 150.33,296.41 150.50,296.41 C150.67,296.41 150.83,296.41 151.00,296.41 C151.17,296.41 151.33,296.41 151.50,296.41 C151.67,296.41 151.83,296.41 152.00,296.41 C152.17,296.41 152.33,296.41 152.50,296.41 C152.67,296.41 152.83,296.41 153.00,296.41 C153.17,296.41 153.33,296.41 153.50,296.41 C153.67,296.41 153.83,296.41 154.00,296.41 C154.17,296.41 154.33,296.41 154.50,296.41 C154.67,296.41 154.83,296.41 155.00,296.41 C155.17,296.41 155.33,296.41 155.50,296.41 C155.67,296.41 155.83,296.41 156.00,296.41 C156.17,296.41 156.33,296.41 156.50,296.41 C156.67,296.41 156.83,296.41 157.00,296.41 C157.17,296.41 157.33,296.41 157.50,296.41 C157.67,296.41 157.83,296.41 158.00,296.41 C158.17,296.41 158.33,296.41 158.50,296.41 C158.67,296.41 158.83,296.41 159.00,296.41 C159.17,296.41 159.33,296.41 159.50,296.41 C159.67,296.41 159.83,296.41 160.00,296.41 C160.17,296.41 160.33,296.41 160.50,296.41 C160.67,296.41 160.83,296.41 161.00,296.41 C161.17,296.41 161.33,296.41 161.50,296.41 C161.67,296.41 161.83,296.41 162.00,296.41 C162.17,296.41 162.33,296.41 162.50,296.41 C162.67,296.41 162.83,296.41 163.00,296.41 C163.17,296.41 163.33,296.41 163.50,296.41 C163.67,296.41 163.83,296.41 164.00,296.41 C164.17,296.41 164.33,296.41 164.50,296.41 C164.67,296.41 164.83,296.41 165.00,296.41 C165.17,296.41 165.33,296.41 165.50,296.41 C165.67,296.41 165.83,296.41 166.00,296.41 C166.17,296.41 166.33,296.41 166.50,296.41 C166.67,296.41 166.83,296.41 167.00,296.41 C167.17,296.41 167.33,296.41 167.50,296.41 C167.67,296.41 167.83,296.41 168.00,296.41 C168.17,296.41 168.33,296.41 168.50,296.41 C168.67,296.41 168.83,296.41 169.00,296.41 C169.17,296.41 169.33,296.41 169.50,296.41 C169.67,296.41 169.83,296.41 170.00,296.41 C170.17,296.41 170.33,296.41 170.50,296.41 C170.67,296.41 170.83,296.41 171.00,296.41 C171.17,296.41 171.33,296.41 171.50,296.41 C171.67,296.41 171.83,296.41 172.00,296.41 C172.17,296.41 172.33,296.41 172.50,296.41 C172.67,296.41 172.83,296.41 173.00,296.41 C173.17,296.41 173.33,296.41 173.50,296.41 C173.67,296.41 173.83,296.41 174.00,296.41 C174.17,296.41 174.33,296.41 174.50,296.41 C174.67,296.41 174.83,296.41 175.00,296.41 C175.17,296.41 175.33,296.41 175.50,296.41 C175.67,296.41 175.83,296.41 176.00,296.41 C176.17,296.41 176.33,296.41 176.50,296.41 C176.67,296.41 176.92,296.41 177.00,296.41" stroke="#0b5cb3" stroke-width="2" fill="none" stroke-linejoin="round"/>
<rect x="47.5" y="260.5" width="130.30" height="37.80" fill="none" stroke="#3c3c3c" stroke-width="1"/>
<g clip-path="url(#ic2)"><g filter="url(#fjet)"><rect x="79.7" y="253.2" width="104.2" height="27.0" fill="#000"/><ellipse cx="90.3" cy="266.8" rx="2.1" ry="2.1" fill="rgb(255,255,255)" style="mix-blend-mode:lighten"/><ellipse cx="97.7" cy="266.8" rx="2.1" ry="2.1" fill="rgb(235,235,235)" style="mix-blend-mode:lighten"/><ellipse cx="104.9" cy="266.8" rx="1.6" ry="1.6" fill="rgb(31,31,31)" style="mix-blend-mode:lighten"/><ellipse cx="112.3" cy="266.8" rx="1.9" ry="1.9" fill="rgb(107,107,107)" style="mix-blend-mode:lighten"/><ellipse cx="119.7" cy="266.8" rx="1.7" ry="1.7" fill="rgb(46,46,46)" style="mix-blend-mode:lighten"/></g></g>
<text x="177.00" y="270.60" font-size="13" fill="#fff" text-anchor="end" stroke="#fff" stroke-width="0.25">Sim.</text>
<text x="168.8" y="288.1" font-size="12.9" fill="#141414" text-anchor="end" stroke="#141414" stroke-width="0.25"><tspan font-style="italic">U</tspan> / <tspan font-style="italic">K</tspan> = 0</text>
<path d="M185.6,225.60 h6 M185.6,238.60 h3.5 M185.6,251.60 h6 M195.50,253.5 v-6 M234.62,253.5 v-6 M273.74,253.5 v-6 M312.86,253.5 v-6" stroke="#3c3c3c" stroke-width="1" fill="none"/>
<path d="M189.30,245.00 C189.55,245.30 190.15,246.87 190.80,246.80 C191.45,246.73 192.62,246.73 193.20,244.60 C193.78,242.47 193.90,236.97 194.30,234.00 C194.70,231.03 195.17,227.55 195.60,226.80 C196.03,226.05 196.48,228.63 196.90,229.50 C197.32,230.37 197.68,231.78 198.10,232.00 C198.52,232.22 198.98,230.48 199.40,230.80 C199.82,231.12 200.18,233.07 200.60,233.90 C201.02,234.73 201.52,235.27 201.90,235.80 C202.28,236.33 202.58,237.63 202.90,237.10 C203.22,236.57 203.43,233.77 203.80,232.60 C204.17,231.43 204.68,229.88 205.10,230.10 C205.52,230.32 205.88,232.00 206.30,233.90 C206.72,235.80 207.18,239.50 207.60,241.50 C208.02,243.50 208.38,244.75 208.80,245.90 C209.22,247.05 209.67,247.57 210.10,248.40 C210.53,249.23 210.87,250.80 211.40,250.90 C211.93,251.00 212.68,249.32 213.30,249.00 C213.92,248.68 214.58,248.68 215.10,249.00 C215.62,249.32 215.87,250.30 216.40,250.90 C216.93,251.50 217.57,252.28 218.30,252.60 C219.03,252.92 220.06,252.83 220.80,252.80 C221.54,252.77 222.19,252.69 222.71,252.42 C223.24,252.15 223.52,251.37 223.93,251.17 C224.33,250.97 224.74,251.02 225.14,251.20 C225.55,251.38 225.95,252.10 226.36,252.25 C226.76,252.40 227.17,252.14 227.57,252.10 C227.98,252.06 228.38,252.11 228.79,252.01 C229.19,251.90 229.60,251.51 230.00,251.50 C230.40,251.48 230.81,251.84 231.21,251.91 C231.62,251.97 232.02,251.91 232.43,251.90 C232.83,251.90 233.24,251.97 233.64,251.86 C234.05,251.76 234.45,251.30 234.86,251.26 C235.26,251.23 235.67,251.59 236.07,251.64 C236.48,251.69 236.88,251.52 237.29,251.58 C237.69,251.65 238.10,251.90 238.50,252.04 C238.90,252.18 239.31,252.36 239.71,252.41 C240.12,252.47 240.52,252.45 240.93,252.35 C241.33,252.24 241.74,251.89 242.14,251.77 C242.55,251.65 242.95,251.70 243.36,251.63 C243.76,251.56 244.17,251.47 244.57,251.38 C244.98,251.28 245.38,251.10 245.79,251.05 C246.19,250.99 246.60,250.93 247.00,251.03 C247.40,251.13 247.81,251.57 248.21,251.64 C248.62,251.70 249.02,251.45 249.43,251.43 C249.83,251.40 250.24,251.38 250.64,251.51 C251.05,251.64 251.45,252.19 251.86,252.22 C252.26,252.25 252.67,251.78 253.07,251.70 C253.48,251.62 253.88,251.81 254.29,251.74 C254.69,251.68 255.10,251.41 255.50,251.29 C255.90,251.16 256.31,250.96 256.71,250.98 C257.12,251.00 257.52,251.37 257.93,251.40 C258.33,251.42 258.74,251.09 259.14,251.13 C259.55,251.17 259.95,251.45 260.36,251.65 C260.76,251.85 261.17,252.29 261.57,252.33 C261.98,252.36 262.38,252.06 262.79,251.87 C263.19,251.68 263.60,251.12 264.00,251.17 C264.40,251.22 264.81,252.02 265.21,252.16 C265.62,252.31 266.02,252.06 266.43,252.02 C266.83,251.98 267.24,251.91 267.64,251.93 C268.05,251.95 268.45,252.16 268.86,252.17 C269.26,252.17 269.67,251.99 270.07,251.96 C270.48,251.93 270.88,252.09 271.29,251.99 C271.69,251.90 272.10,251.33 272.50,251.38 C272.90,251.42 273.31,252.11 273.71,252.25 C274.12,252.39 274.52,252.41 274.93,252.22 C275.33,252.03 275.74,251.14 276.14,251.09 C276.55,251.04 276.95,251.79 277.36,251.92 C277.76,252.04 278.17,251.93 278.57,251.86 C278.98,251.79 279.38,251.54 279.79,251.50 C280.19,251.45 280.60,251.58 281.00,251.59 C281.40,251.59 281.81,251.44 282.21,251.53 C282.62,251.62 283.02,252.13 283.43,252.13 C283.83,252.13 284.24,251.55 284.64,251.53 C285.05,251.51 285.45,252.02 285.86,251.99 C286.26,251.95 286.67,251.30 287.07,251.31 C287.48,251.33 287.88,251.92 288.29,252.05 C288.69,252.18 289.10,252.17 289.50,252.07 C289.90,251.97 290.31,251.53 290.71,251.45 C291.12,251.37 291.52,251.49 291.93,251.59 C292.33,251.70 292.74,252.05 293.14,252.08 C293.55,252.12 293.95,251.90 294.36,251.80 C294.76,251.70 295.17,251.58 295.57,251.46 C295.98,251.35 296.38,251.13 296.79,251.09 C297.19,251.05 297.60,251.12 298.00,251.23 C298.40,251.34 298.81,251.79 299.21,251.75 C299.62,251.71 300.02,250.95 300.43,250.99 C300.83,251.04 301.24,252.01 301.64,252.03 C302.05,252.05 302.45,251.13 302.86,251.13 C303.26,251.13 303.67,252.01 304.07,252.02 C304.48,252.03 304.88,251.17 305.29,251.17 C305.69,251.18 306.10,251.99 306.50,252.08 C306.90,252.17 307.31,251.83 307.71,251.72 C308.12,251.61 308.52,251.48 308.93,251.43 C309.33,251.39 309.74,251.41 310.14,251.45 C310.55,251.48 310.95,251.61 311.36,251.63 C311.76,251.64 312.17,251.61 312.57,251.53 C312.98,251.45 313.38,251.16 313.79,251.14 C314.19,251.12 314.80,251.36 315.00,251.40" stroke="#ff5055" stroke-width="2" fill="none" stroke-linejoin="round"/>
<rect x="185.6" y="215.2" width="129.50" height="38.30" fill="none" stroke="#3c3c3c" stroke-width="1"/>
<g clip-path="url(#ic3)"><g filter="url(#fhot)"><rect x="217.2" y="208.8" width="103.9" height="26.8" fill="#000"/><ellipse cx="230.5" cy="223.0" rx="7.0" ry="5.8" fill="rgb(21,21,21)" style="mix-blend-mode:lighten"/><ellipse cx="230.5" cy="223.0" rx="5.6000000000000005" ry="4.64" fill="rgb(43,43,43)" style="mix-blend-mode:lighten"/><ellipse cx="230.5" cy="223.0" rx="4.2" ry="3.48" fill="rgb(74,74,74)" style="mix-blend-mode:lighten"/><ellipse cx="230.5" cy="223.0" rx="2.8000000000000003" ry="2.32" fill="rgb(111,111,111)" style="mix-blend-mode:lighten"/><ellipse cx="230.5" cy="223.0" rx="1.3999999999999997" ry="1.1599999999999997" fill="rgb(141,141,141)" style="mix-blend-mode:lighten"/><ellipse cx="227.8" cy="223.3" rx="2.0" ry="2.4" fill="rgb(184,184,184)" style="mix-blend-mode:lighten"/><ellipse cx="233.8" cy="222.6" rx="1.7" ry="2.4" fill="rgb(178,178,178)" style="mix-blend-mode:lighten"/><ellipse cx="230.7" cy="222.6" rx="1.5" ry="1.8" fill="rgb(148,148,148)" style="mix-blend-mode:lighten"/></g></g>
<text x="310.9" y="243.7" font-size="12.9" fill="#141414" text-anchor="end" stroke="#141414" stroke-width="0.25"><tspan font-style="italic">U</tspan> / <tspan font-style="italic">K</tspan> = 4.8</text>
<text x="194.8" y="314.5" font-size="12.3" text-anchor="middle" fill="#141414" stroke="#141414" stroke-width="0.25">0</text>
<text x="234.0" y="314.5" font-size="12.3" text-anchor="middle" fill="#141414" stroke="#141414" stroke-width="0.25">4</text>
<text x="273.2" y="314.5" font-size="12.3" text-anchor="middle" fill="#141414" stroke="#141414" stroke-width="0.25">8</text>
<text x="312.4" y="314.5" font-size="12.3" text-anchor="middle" fill="#141414" stroke="#141414" stroke-width="0.25">12</text>
<path d="M185.5,270.30 h6 M185.5,283.30 h3.5 M185.5,296.30 h6 M194.80,298.2 v-6 M234.00,298.2 v-6 M273.20,298.2 v-6 M312.40,298.2 v-6" stroke="#3c3c3c" stroke-width="1" fill="none"/>
<path d="M187.50,296.24 C187.58,296.23 187.83,296.20 188.00,296.16 C188.17,296.12 188.33,296.08 188.50,296.01 C188.67,295.94 188.83,295.86 189.00,295.73 C189.17,295.60 189.33,295.46 189.50,295.25 C189.67,295.04 189.83,294.78 190.00,294.45 C190.17,294.12 190.33,293.73 190.50,293.24 C190.67,292.75 190.83,292.18 191.00,291.51 C191.17,290.84 191.33,290.07 191.50,289.22 C191.67,288.37 191.83,287.41 192.00,286.41 C192.17,285.41 192.33,284.31 192.50,283.24 C192.67,282.17 192.83,281.03 193.00,280.01 C193.17,278.99 193.33,277.95 193.50,277.10 C193.67,276.25 193.83,275.47 194.00,274.92 C194.17,274.37 194.33,273.97 194.50,273.80 C194.67,273.63 194.83,273.68 195.00,273.93 C195.17,274.18 195.33,274.66 195.50,275.28 C195.67,275.90 195.83,276.74 196.00,277.63 C196.17,278.52 196.33,279.59 196.50,280.63 C196.67,281.67 196.83,282.80 197.00,283.85 C197.17,284.90 197.33,285.97 197.50,286.91 C197.67,287.85 197.83,288.75 198.00,289.51 C198.17,290.27 198.33,290.94 198.50,291.48 C198.67,292.02 198.83,292.43 199.00,292.72 C199.17,293.01 199.33,293.17 199.50,293.20 C199.67,293.23 199.83,293.13 200.00,292.91 C200.17,292.69 200.33,292.35 200.50,291.88 C200.67,291.41 200.83,290.82 201.00,290.12 C201.17,289.42 201.33,288.59 201.50,287.70 C201.67,286.81 201.83,285.81 202.00,284.80 C202.17,283.80 202.33,282.69 202.50,281.67 C202.67,280.65 202.83,279.59 203.00,278.68 C203.17,277.77 203.33,276.90 203.50,276.23 C203.67,275.56 203.83,275.01 204.00,274.69 C204.17,274.37 204.33,274.25 204.50,274.33 C204.67,274.41 204.83,274.72 205.00,275.18 C205.17,275.64 205.33,276.34 205.50,277.12 C205.67,277.90 205.83,278.87 206.00,279.84 C206.17,280.81 206.33,281.91 206.50,282.95 C206.67,283.99 206.83,285.07 207.00,286.06 C207.17,287.05 207.33,288.01 207.50,288.86 C207.67,289.71 207.83,290.50 208.00,291.17 C208.17,291.84 208.33,292.41 208.50,292.89 C208.67,293.37 208.83,293.74 209.00,294.04 C209.17,294.34 209.33,294.54 209.50,294.69 C209.67,294.84 209.83,294.91 210.00,294.93 C210.17,294.95 210.33,294.91 210.50,294.83 C210.67,294.75 210.83,294.62 211.00,294.46 C211.17,294.30 211.33,294.10 211.50,293.90 C211.67,293.70 211.83,293.47 212.00,293.24 C212.17,293.01 212.33,292.77 212.50,292.55 C212.67,292.33 212.83,292.12 213.00,291.94 C213.17,291.76 213.33,291.61 213.50,291.50 C213.67,291.39 213.83,291.33 214.00,291.31 C214.17,291.29 214.33,291.32 214.50,291.39 C214.67,291.46 214.83,291.59 215.00,291.74 C215.17,291.89 215.33,292.09 215.50,292.30 C215.67,292.51 215.83,292.75 216.00,292.98 C216.17,293.21 216.33,293.47 216.50,293.70 C216.67,293.93 216.83,294.16 217.00,294.37 C217.17,294.58 217.33,294.77 217.50,294.94 C217.67,295.11 217.83,295.25 218.00,295.38 C218.17,295.50 218.33,295.61 218.50,295.69 C218.67,295.77 218.83,295.83 219.00,295.87 C219.17,295.91 219.33,295.94 219.50,295.95 C219.67,295.96 219.83,295.95 220.00,295.93 C220.17,295.91 220.33,295.88 220.50,295.83 C220.67,295.78 220.83,295.72 221.00,295.66 C221.17,295.60 221.33,295.52 221.50,295.45 C221.67,295.38 221.83,295.30 222.00,295.22 C222.17,295.14 222.33,295.05 222.50,294.98 C222.67,294.91 222.83,294.83 223.00,294.78 C223.17,294.72 223.33,294.68 223.50,294.65 C223.67,294.62 223.83,294.60 224.00,294.60 C224.17,294.60 224.33,294.62 224.50,294.65 C224.67,294.68 224.83,294.72 225.00,294.78 C225.17,294.83 225.33,294.91 225.50,294.98 C225.67,295.05 225.83,295.14 226.00,295.22 C226.17,295.30 226.33,295.38 226.50,295.46 C226.67,295.54 226.83,295.62 227.00,295.69 C227.17,295.76 227.33,295.82 227.50,295.88 C227.67,295.94 227.83,295.98 228.00,296.02 C228.17,296.06 228.33,296.10 228.50,296.13 C228.67,296.16 228.83,296.18 229.00,296.20 C229.17,296.22 229.33,296.23 229.50,296.24 C229.67,296.25 229.83,296.26 230.00,296.27 C230.17,296.28 230.33,296.29 230.50,296.29 C230.67,296.29 230.83,296.29 231.00,296.29 C231.17,296.29 231.33,296.30 231.50,296.30 C231.67,296.30 231.83,296.30 232.00,296.30 C232.17,296.30 232.33,296.30 232.50,296.30 C232.67,296.30 232.83,296.30 233.00,296.30 C233.17,296.30 233.33,296.30 233.50,296.30 C233.67,296.30 233.83,296.30 234.00,296.30 C234.17,296.30 234.33,296.30 234.50,296.30 C234.67,296.30 234.83,296.30 235.00,296.30 C235.17,296.30 235.33,296.30 235.50,296.30 C235.67,296.30 235.83,296.30 236.00,296.30 C236.17,296.30 236.33,296.30 236.50,296.30 C236.67,296.30 236.83,296.30 237.00,296.30 C237.17,296.30 237.33,296.30 237.50,296.30 C237.67,296.30 237.83,296.30 238.00,296.30 C238.17,296.30 238.33,296.30 238.50,296.30 C238.67,296.30 238.83,296.30 239.00,296.30 C239.17,296.30 239.33,296.30 239.50,296.30 C239.67,296.30 239.83,296.30 240.00,296.30 C240.17,296.30 240.33,296.30 240.50,296.30 C240.67,296.30 240.83,296.30 241.00,296.30 C241.17,296.30 241.33,296.30 241.50,296.30 C241.67,296.30 241.83,296.30 242.00,296.30 C242.17,296.30 242.33,296.30 242.50,296.30 C242.67,296.30 242.83,296.30 243.00,296.30 C243.17,296.30 243.33,296.30 243.50,296.30 C243.67,296.30 243.83,296.30 244.00,296.30 C244.17,296.30 244.33,296.30 244.50,296.30 C244.67,296.30 244.83,296.30 245.00,296.30 C245.17,296.30 245.33,296.30 245.50,296.30 C245.67,296.30 245.83,296.30 246.00,296.30 C246.17,296.30 246.33,296.30 246.50,296.30 C246.67,296.30 246.83,296.30 247.00,296.30 C247.17,296.30 247.33,296.30 247.50,296.30 C247.67,296.30 247.83,296.30 248.00,296.30 C248.17,296.30 248.33,296.30 248.50,296.30 C248.67,296.30 248.83,296.30 249.00,296.30 C249.17,296.30 249.33,296.30 249.50,296.30 C249.67,296.30 249.83,296.30 250.00,296.30 C250.17,296.30 250.33,296.30 250.50,296.30 C250.67,296.30 250.83,296.30 251.00,296.30 C251.17,296.30 251.33,296.30 251.50,296.30 C251.67,296.30 251.83,296.30 252.00,296.30 C252.17,296.30 252.33,296.30 252.50,296.30 C252.67,296.30 252.83,296.30 253.00,296.30 C253.17,296.30 253.33,296.30 253.50,296.30 C253.67,296.30 253.83,296.30 254.00,296.30 C254.17,296.30 254.33,296.30 254.50,296.30 C254.67,296.30 254.83,296.30 255.00,296.30 C255.17,296.30 255.33,296.30 255.50,296.30 C255.67,296.30 255.83,296.30 256.00,296.30 C256.17,296.30 256.33,296.30 256.50,296.30 C256.67,296.30 256.83,296.30 257.00,296.30 C257.17,296.30 257.33,296.30 257.50,296.30 C257.67,296.30 257.83,296.30 258.00,296.30 C258.17,296.30 258.33,296.30 258.50,296.30 C258.67,296.30 258.83,296.30 259.00,296.30 C259.17,296.30 259.33,296.30 259.50,296.30 C259.67,296.30 259.83,296.30 260.00,296.30 C260.17,296.30 260.33,296.30 260.50,296.30 C260.67,296.30 260.83,296.30 261.00,296.30 C261.17,296.30 261.33,296.30 261.50,296.30 C261.67,296.30 261.83,296.30 262.00,296.30 C262.17,296.30 262.33,296.30 262.50,296.30 C262.67,296.30 262.83,296.30 263.00,296.30 C263.17,296.30 263.33,296.30 263.50,296.30 C263.67,296.30 263.83,296.30 264.00,296.30 C264.17,296.30 264.33,296.30 264.50,296.30 C264.67,296.30 264.83,296.30 265.00,296.30 C265.17,296.30 265.33,296.30 265.50,296.30 C265.67,296.30 265.83,296.30 266.00,296.30 C266.17,296.30 266.33,296.30 266.50,296.30 C266.67,296.30 266.83,296.30 267.00,296.30 C267.17,296.30 267.33,296.30 267.50,296.30 C267.67,296.30 267.83,296.30 268.00,296.30 C268.17,296.30 268.33,296.30 268.50,296.30 C268.67,296.30 268.83,296.30 269.00,296.30 C269.17,296.30 269.33,296.30 269.50,296.30 C269.67,296.30 269.83,296.30 270.00,296.30 C270.17,296.30 270.33,296.30 270.50,296.30 C270.67,296.30 270.83,296.30 271.00,296.30 C271.17,296.30 271.33,296.30 271.50,296.30 C271.67,296.30 271.83,296.30 272.00,296.30 C272.17,296.30 272.33,296.30 272.50,296.30 C272.67,296.30 272.83,296.30 273.00,296.30 C273.17,296.30 273.33,296.30 273.50,296.30 C273.67,296.30 273.83,296.30 274.00,296.30 C274.17,296.30 274.33,296.30 274.50,296.30 C274.67,296.30 274.83,296.30 275.00,296.30 C275.17,296.30 275.33,296.30 275.50,296.30 C275.67,296.30 275.83,296.30 276.00,296.30 C276.17,296.30 276.33,296.30 276.50,296.30 C276.67,296.30 276.83,296.30 277.00,296.30 C277.17,296.30 277.33,296.30 277.50,296.30 C277.67,296.30 277.83,296.30 278.00,296.30 C278.17,296.30 278.33,296.30 278.50,296.30 C278.67,296.30 278.83,296.30 279.00,296.30 C279.17,296.30 279.33,296.30 279.50,296.30 C279.67,296.30 279.83,296.30 280.00,296.30 C280.17,296.30 280.33,296.30 280.50,296.30 C280.67,296.30 280.83,296.30 281.00,296.30 C281.17,296.30 281.33,296.30 281.50,296.30 C281.67,296.30 281.83,296.30 282.00,296.30 C282.17,296.30 282.33,296.30 282.50,296.30 C282.67,296.30 282.83,296.30 283.00,296.30 C283.17,296.30 283.33,296.30 283.50,296.30 C283.67,296.30 283.83,296.30 284.00,296.30 C284.17,296.30 284.33,296.30 284.50,296.30 C284.67,296.30 284.83,296.30 285.00,296.30 C285.17,296.30 285.33,296.30 285.50,296.30 C285.67,296.30 285.83,296.30 286.00,296.30 C286.17,296.30 286.33,296.30 286.50,296.30 C286.67,296.30 286.83,296.30 287.00,296.30 C287.17,296.30 287.33,296.30 287.50,296.30 C287.67,296.30 287.83,296.30 288.00,296.30 C288.17,296.30 288.33,296.30 288.50,296.30 C288.67,296.30 288.83,296.30 289.00,296.30 C289.17,296.30 289.33,296.30 289.50,296.30 C289.67,296.30 289.83,296.30 290.00,296.30 C290.17,296.30 290.33,296.30 290.50,296.30 C290.67,296.30 290.83,296.30 291.00,296.30 C291.17,296.30 291.33,296.30 291.50,296.30 C291.67,296.30 291.83,296.30 292.00,296.30 C292.17,296.30 292.33,296.30 292.50,296.30 C292.67,296.30 292.83,296.30 293.00,296.30 C293.17,296.30 293.33,296.30 293.50,296.30 C293.67,296.30 293.83,296.30 294.00,296.30 C294.17,296.30 294.33,296.30 294.50,296.30 C294.67,296.30 294.83,296.30 295.00,296.30 C295.17,296.30 295.33,296.30 295.50,296.30 C295.67,296.30 295.83,296.30 296.00,296.30 C296.17,296.30 296.33,296.30 296.50,296.30 C296.67,296.30 296.83,296.30 297.00,296.30 C297.17,296.30 297.33,296.30 297.50,296.30 C297.67,296.30 297.83,296.30 298.00,296.30 C298.17,296.30 298.33,296.30 298.50,296.30 C298.67,296.30 298.83,296.30 299.00,296.30 C299.17,296.30 299.33,296.30 299.50,296.30 C299.67,296.30 299.83,296.30 300.00,296.30 C300.17,296.30 300.33,296.30 300.50,296.30 C300.67,296.30 300.83,296.30 301.00,296.30 C301.17,296.30 301.33,296.30 301.50,296.30 C301.67,296.30 301.83,296.30 302.00,296.30 C302.17,296.30 302.33,296.30 302.50,296.30 C302.67,296.30 302.83,296.30 303.00,296.30 C303.17,296.30 303.33,296.30 303.50,296.30 C303.67,296.30 303.83,296.30 304.00,296.30 C304.17,296.30 304.33,296.30 304.50,296.30 C304.67,296.30 304.83,296.30 305.00,296.30 C305.17,296.30 305.33,296.30 305.50,296.30 C305.67,296.30 305.83,296.30 306.00,296.30 C306.17,296.30 306.33,296.30 306.50,296.30 C306.67,296.30 306.83,296.30 307.00,296.30 C307.17,296.30 307.33,296.30 307.50,296.30 C307.67,296.30 307.83,296.30 308.00,296.30 C308.17,296.30 308.33,296.30 308.50,296.30 C308.67,296.30 308.83,296.30 309.00,296.30 C309.17,296.30 309.33,296.30 309.50,296.30 C309.67,296.30 309.83,296.30 310.00,296.30 C310.17,296.30 310.33,296.30 310.50,296.30 C310.67,296.30 310.83,296.30 311.00,296.30 C311.17,296.30 311.33,296.30 311.50,296.30 C311.67,296.30 311.83,296.30 312.00,296.30 C312.17,296.30 312.33,296.30 312.50,296.30 C312.67,296.30 312.83,296.30 313.00,296.30 C313.17,296.30 313.33,296.30 313.50,296.30 C313.67,296.30 313.83,296.30 314.00,296.30 C314.17,296.30 314.42,296.30 314.50,296.30" stroke="#0b5cb3" stroke-width="2" fill="none" stroke-linejoin="round"/>
<rect x="185.5" y="260.5" width="129.60" height="37.70" fill="none" stroke="#3c3c3c" stroke-width="1"/>
<g clip-path="url(#ic4)"><g filter="url(#fjet)"><rect x="217.0" y="253.8" width="104.1" height="26.9" fill="#000"/><ellipse cx="227.7" cy="267.3" rx="2.1" ry="2.1" fill="rgb(255,255,255)" style="mix-blend-mode:lighten"/><ellipse cx="235.0" cy="267.3" rx="2.1" ry="2.1" fill="rgb(247,247,247)" style="mix-blend-mode:lighten"/><ellipse cx="242.6" cy="267.3" rx="1.7" ry="1.7" fill="rgb(76,76,76)" style="mix-blend-mode:lighten"/><ellipse cx="249.6" cy="267.3" rx="1.5" ry="1.5" fill="rgb(41,41,41)" style="mix-blend-mode:lighten"/></g></g>
<text x="309.8" y="288.2" font-size="12.9" fill="#141414" text-anchor="end" stroke="#141414" stroke-width="0.25"><tspan font-style="italic">U</tspan> / <tspan font-style="italic">K</tspan> = 4.8</text>
<text x="394.3" y="229.9" font-size="12.3" text-anchor="end" fill="#141414" stroke="#141414" stroke-width="0.25">0.5</text>
<text x="394.3" y="255.9" font-size="12.3" text-anchor="end" fill="#141414" stroke="#141414" stroke-width="0.25">0</text>
<path d="M400.5,225.80 h6 M400.5,238.80 h3.5 M400.5,251.80 h6 M409.90,253.6 v-6 M449.10,253.6 v-6 M488.30,253.6 v-6 M527.50,253.6 v-6" stroke="#3c3c3c" stroke-width="1" fill="none"/>
<path d="M404.10,252.10 C404.62,252.05 406.43,253.25 407.20,251.80 C407.97,250.35 408.23,245.97 408.70,243.40 C409.17,240.83 409.58,236.57 410.00,236.40 C410.42,236.23 410.73,240.22 411.20,242.40 C411.67,244.58 412.28,248.45 412.80,249.50 C413.32,250.55 413.72,248.73 414.30,248.70 C414.88,248.67 415.75,249.67 416.30,249.30 C416.85,248.93 417.17,247.48 417.60,246.50 C418.03,245.52 418.43,243.58 418.90,243.40 C419.37,243.22 419.88,244.38 420.40,245.40 C420.92,246.42 421.40,248.55 422.00,249.50 C422.60,250.45 423.32,250.72 424.00,251.10 C424.68,251.48 425.42,252.57 426.10,251.80 C426.78,251.03 427.52,248.07 428.10,246.50 C428.68,244.93 429.08,242.58 429.60,242.40 C430.12,242.22 430.68,244.05 431.20,245.40 C431.72,246.75 432.12,249.90 432.70,250.50 C433.28,251.10 434.02,249.17 434.70,249.00 C435.38,248.83 436.15,249.83 436.80,249.50 C437.45,249.17 438.00,247.25 438.60,247.00 C439.20,246.75 439.85,247.50 440.40,248.00 C440.95,248.50 441.32,249.75 441.90,250.00 C442.48,250.25 443.22,249.62 443.90,249.50 C444.58,249.38 445.35,250.32 446.00,249.30 C446.65,248.28 447.25,244.68 447.80,243.40 C448.35,242.12 448.83,241.43 449.30,241.60 C449.77,241.77 450.13,243.08 450.60,244.40 C451.07,245.72 451.50,248.57 452.10,249.50 C452.70,250.43 453.52,250.33 454.20,250.00 C454.88,249.67 455.48,249.08 456.20,247.50 C456.92,245.92 457.82,240.85 458.50,240.50 C459.18,240.15 459.75,243.90 460.30,245.40 C460.85,246.90 461.12,248.73 461.80,249.50 C462.48,250.27 463.55,250.17 464.40,250.00 C465.25,249.83 466.20,249.53 466.90,248.50 C467.60,247.47 468.05,244.17 468.60,243.80 C469.15,243.43 469.68,245.28 470.20,246.30 C470.72,247.32 471.02,249.22 471.70,249.90 C472.38,250.58 473.37,250.90 474.30,250.40 C475.23,249.90 476.45,247.15 477.30,246.90 C478.15,246.65 478.55,248.40 479.40,248.90 C480.25,249.40 481.73,249.74 482.40,249.90 C483.07,250.06 483.08,249.94 483.42,249.87 C483.76,249.80 484.10,249.51 484.44,249.49 C484.78,249.47 485.12,249.73 485.46,249.77 C485.80,249.80 486.14,249.88 486.48,249.70 C486.82,249.52 487.16,248.90 487.50,248.70 C487.84,248.51 488.19,248.35 488.54,248.52 C488.89,248.69 489.23,249.71 489.58,249.74 C489.93,249.77 490.27,248.91 490.62,248.71 C490.97,248.52 491.31,248.41 491.66,248.57 C492.01,248.74 492.36,249.62 492.70,249.69 C493.04,249.76 493.38,248.99 493.72,248.99 C494.06,249.00 494.40,249.67 494.74,249.72 C495.08,249.77 495.42,249.29 495.76,249.28 C496.10,249.28 496.44,249.72 496.78,249.68 C497.12,249.64 497.46,249.01 497.80,249.04 C498.14,249.07 498.48,249.66 498.82,249.88 C499.16,250.09 499.50,250.32 499.84,250.31 C500.18,250.30 500.52,249.83 500.86,249.82 C501.20,249.80 501.54,250.17 501.88,250.23 C502.22,250.29 502.56,250.39 502.90,250.17 C503.24,249.96 503.57,249.01 503.90,248.95 C504.23,248.89 504.52,249.92 504.90,249.81 C505.28,249.70 505.77,248.83 506.20,248.30 C506.63,247.76 507.07,246.73 507.50,246.58 C507.93,246.43 508.33,246.83 508.75,247.40 C509.17,247.97 509.62,249.65 510.00,249.98 C510.38,250.32 510.69,249.44 511.03,249.42 C511.38,249.41 511.72,249.75 512.07,249.88 C512.41,250.01 512.76,250.27 513.10,250.21 C513.44,250.15 513.78,249.65 514.12,249.52 C514.47,249.39 514.81,249.65 515.15,249.42 C515.49,249.20 515.83,248.33 516.18,248.16 C516.52,247.98 516.86,248.38 517.20,248.38 C517.54,248.39 517.88,248.03 518.23,248.19 C518.57,248.35 518.91,249.11 519.25,249.35 C519.59,249.59 519.93,249.73 520.27,249.63 C520.62,249.53 520.96,248.89 521.30,248.76 C521.64,248.62 521.98,248.79 522.32,248.82 C522.67,248.85 523.01,248.73 523.35,248.95 C523.69,249.17 524.03,250.09 524.38,250.14 C524.72,250.20 525.06,249.45 525.40,249.30 C525.74,249.14 526.07,249.37 526.40,249.20 C526.73,249.03 527.02,248.27 527.40,248.28 C527.78,248.29 528.27,248.99 528.70,249.26 C529.13,249.53 529.78,249.79 530.00,249.90" stroke="#ff5055" stroke-width="2" fill="none" stroke-linejoin="round"/>
<rect x="400.5" y="215.5" width="130.00" height="38.10" fill="none" stroke="#3c3c3c" stroke-width="1"/>
<g clip-path="url(#ic5)"><g filter="url(#fhot)"><rect x="432.0" y="208.8" width="104.5" height="25.8" fill="#000"/><ellipse cx="441.5" cy="222.6" rx="1.9800000000000002" ry="2.8350000000000004" fill="rgb(76,76,76)" style="mix-blend-mode:lighten"/><ellipse cx="441.5" cy="222.6" rx="1.1" ry="2.1" fill="rgb(255,255,255)" style="mix-blend-mode:lighten"/><ellipse cx="448.4" cy="222.6" rx="1.881" ry="2.69325" fill="rgb(60,60,60)" style="mix-blend-mode:lighten"/><ellipse cx="448.4" cy="222.6" rx="1.045" ry="1.9949999999999999" fill="rgb(199,199,199)" style="mix-blend-mode:lighten"/><ellipse cx="456.1" cy="222.6" rx="1.881" ry="2.69325" fill="rgb(70,70,70)" style="mix-blend-mode:lighten"/><ellipse cx="456.1" cy="222.6" rx="1.045" ry="1.9949999999999999" fill="rgb(235,235,235)" style="mix-blend-mode:lighten"/><ellipse cx="463.0" cy="222.6" rx="1.683" ry="2.40975" fill="rgb(31,31,31)" style="mix-blend-mode:lighten"/><ellipse cx="463.0" cy="222.6" rx="0.935" ry="1.785" fill="rgb(102,102,102)" style="mix-blend-mode:lighten"/><ellipse cx="470.3" cy="222.6" rx="1.881" ry="2.69325" fill="rgb(70,70,70)" style="mix-blend-mode:lighten"/><ellipse cx="470.3" cy="222.6" rx="1.045" ry="1.9949999999999999" fill="rgb(235,235,235)" style="mix-blend-mode:lighten"/><ellipse cx="477.6" cy="222.6" rx="1.9800000000000002" ry="2.8350000000000004" fill="rgb(76,76,76)" style="mix-blend-mode:lighten"/><ellipse cx="477.6" cy="222.6" rx="1.1" ry="2.1" fill="rgb(255,255,255)" style="mix-blend-mode:lighten"/><ellipse cx="484.6" cy="222.6" rx="1.7820000000000003" ry="2.5515000000000003" fill="rgb(50,50,50)" style="mix-blend-mode:lighten"/><ellipse cx="484.6" cy="222.6" rx="0.9900000000000001" ry="1.8900000000000001" fill="rgb(168,168,168)" style="mix-blend-mode:lighten"/><ellipse cx="492.1" cy="222.6" rx="1.5840000000000003" ry="2.2680000000000002" fill="rgb(31,31,31)" style="mix-blend-mode:lighten"/><ellipse cx="492.1" cy="222.6" rx="0.8800000000000001" ry="1.6800000000000002" fill="rgb(102,102,102)" style="mix-blend-mode:lighten"/><ellipse cx="499.2" cy="222.6" rx="1.3860000000000001" ry="1.9845000000000002" fill="rgb(12,12,12)" style="mix-blend-mode:lighten"/><ellipse cx="499.2" cy="222.6" rx="0.77" ry="1.47" fill="rgb(41,41,41)" style="mix-blend-mode:lighten"/><ellipse cx="506.5" cy="222.6" rx="1.3860000000000001" ry="1.9845000000000002" fill="rgb(12,12,12)" style="mix-blend-mode:lighten"/><ellipse cx="506.5" cy="222.6" rx="0.77" ry="1.47" fill="rgb(41,41,41)" style="mix-blend-mode:lighten"/><ellipse cx="513.8" cy="222.6" rx="1.485" ry="2.12625" fill="rgb(21,21,21)" style="mix-blend-mode:lighten"/><ellipse cx="513.8" cy="222.6" rx="0.8250000000000001" ry="1.5750000000000002" fill="rgb(71,71,71)" style="mix-blend-mode:lighten"/><ellipse cx="521.0" cy="222.6" rx="1.485" ry="2.12625" fill="rgb(21,21,21)" style="mix-blend-mode:lighten"/><ellipse cx="521.0" cy="222.6" rx="0.8250000000000001" ry="1.5750000000000002" fill="rgb(71,71,71)" style="mix-blend-mode:lighten"/></g></g>
<text x="521.6" y="243.0" font-size="12.9" fill="#141414" text-anchor="end" stroke="#141414" stroke-width="0.25"><tspan font-style="italic">U</tspan> / <tspan font-style="italic">K</tspan> = 0</text>
<text x="394.3" y="274.4" font-size="12.3" text-anchor="end" fill="#141414" stroke="#141414" stroke-width="0.25">0.5</text>
<text x="394.3" y="300.4" font-size="12.3" text-anchor="end" fill="#141414" stroke="#141414" stroke-width="0.25">0</text>
<text x="409.8" y="314.5" font-size="12.3" text-anchor="middle" fill="#141414" stroke="#141414" stroke-width="0.25">0</text>
<text x="449.0" y="314.5" font-size="12.3" text-anchor="middle" fill="#141414" stroke="#141414" stroke-width="0.25">4</text>
<text x="488.2" y="314.5" font-size="12.3" text-anchor="middle" fill="#141414" stroke="#141414" stroke-width="0.25">8</text>
<text x="527.4" y="314.5" font-size="12.3" text-anchor="middle" fill="#141414" stroke="#141414" stroke-width="0.25">12</text>
<path d="M400.5,270.30 h6 M400.5,283.30 h3.5 M400.5,296.30 h6 M409.80,298.6 v-6 M449.00,298.6 v-6 M488.20,298.6 v-6 M527.40,298.6 v-6" stroke="#3c3c3c" stroke-width="1" fill="none"/>
<path d="M403.50,296.35 C403.58,296.34 403.83,296.32 404.00,296.30 C404.17,296.28 404.33,296.25 404.50,296.21 C404.67,296.17 404.83,296.12 405.00,296.05 C405.17,295.98 405.33,295.89 405.50,295.78 C405.67,295.67 405.83,295.53 406.00,295.37 C406.17,295.21 406.33,295.02 406.50,294.79 C406.67,294.56 406.83,294.31 407.00,294.02 C407.17,293.73 407.33,293.40 407.50,293.07 C407.67,292.74 407.83,292.37 408.00,292.01 C408.17,291.65 408.33,291.26 408.50,290.92 C408.67,290.58 408.83,290.23 409.00,289.94 C409.17,289.65 409.33,289.39 409.50,289.21 C409.67,289.02 409.83,288.88 410.00,288.83 C410.17,288.77 410.33,288.80 410.50,288.88 C410.67,288.96 410.83,289.12 411.00,289.33 C411.17,289.54 411.33,289.82 411.50,290.12 C411.67,290.42 411.83,290.78 412.00,291.13 C412.17,291.48 412.33,291.86 412.50,292.21 C412.67,292.56 412.83,292.92 413.00,293.24 C413.17,293.56 413.33,293.86 413.50,294.11 C413.67,294.37 413.83,294.59 414.00,294.77 C414.17,294.95 414.33,295.08 414.50,295.17 C414.67,295.26 414.83,295.31 415.00,295.31 C415.17,295.31 415.33,295.27 415.50,295.18 C415.67,295.09 415.83,294.97 416.00,294.79 C416.17,294.62 416.33,294.39 416.50,294.13 C416.67,293.87 416.83,293.57 417.00,293.24 C417.17,292.91 417.33,292.54 417.50,292.17 C417.67,291.80 417.83,291.39 418.00,291.01 C418.17,290.63 418.33,290.24 418.50,289.91 C418.67,289.58 418.83,289.25 419.00,289.01 C419.17,288.77 419.33,288.57 419.50,288.45 C419.67,288.33 419.83,288.28 420.00,288.31 C420.17,288.34 420.33,288.45 420.50,288.62 C420.67,288.79 420.83,289.05 421.00,289.34 C421.17,289.63 421.33,289.98 421.50,290.34 C421.67,290.70 421.83,291.10 422.00,291.48 C422.17,291.86 422.33,292.26 422.50,292.62 C422.67,292.98 422.83,293.33 423.00,293.64 C423.17,293.95 423.33,294.22 423.50,294.46 C423.67,294.69 423.83,294.89 424.00,295.05 C424.17,295.21 424.33,295.32 424.50,295.40 C424.67,295.48 424.83,295.51 425.00,295.51 C425.17,295.51 425.33,295.48 425.50,295.41 C425.67,295.34 425.83,295.24 426.00,295.11 C426.17,294.98 426.33,294.81 426.50,294.63 C426.67,294.44 426.83,294.22 427.00,294.00 C427.17,293.78 427.33,293.54 427.50,293.30 C427.67,293.06 427.83,292.81 428.00,292.58 C428.17,292.35 428.33,292.13 428.50,291.95 C428.67,291.77 428.83,291.61 429.00,291.50 C429.17,291.39 429.33,291.33 429.50,291.31 C429.67,291.29 429.83,291.32 430.00,291.39 C430.17,291.46 430.33,291.60 430.50,291.75 C430.67,291.90 430.83,292.10 431.00,292.31 C431.17,292.52 431.33,292.77 431.50,293.01 C431.67,293.25 431.83,293.51 432.00,293.74 C432.17,293.97 432.33,294.20 432.50,294.41 C432.67,294.62 432.83,294.81 433.00,294.98 C433.17,295.15 433.33,295.30 433.50,295.41 C433.67,295.53 433.83,295.61 434.00,295.67 C434.17,295.73 434.33,295.78 434.50,295.79 C434.67,295.80 434.83,295.79 435.00,295.75 C435.17,295.71 435.33,295.64 435.50,295.56 C435.67,295.48 435.83,295.38 436.00,295.25 C436.17,295.12 436.33,294.97 436.50,294.81 C436.67,294.65 436.83,294.48 437.00,294.30 C437.17,294.12 437.33,293.93 437.50,293.76 C437.67,293.59 437.83,293.41 438.00,293.26 C438.17,293.11 438.33,292.97 438.50,292.87 C438.67,292.77 438.83,292.68 439.00,292.64 C439.17,292.60 439.33,292.59 439.50,292.62 C439.67,292.65 439.83,292.72 440.00,292.81 C440.17,292.90 440.33,293.03 440.50,293.17 C440.67,293.31 440.83,293.49 441.00,293.66 C441.17,293.83 441.33,294.02 441.50,294.20 C441.67,294.38 441.83,294.56 442.00,294.73 C442.17,294.90 442.33,295.05 442.50,295.19 C442.67,295.33 442.83,295.45 443.00,295.55 C443.17,295.65 443.33,295.73 443.50,295.79 C443.67,295.85 443.83,295.88 444.00,295.90 C444.17,295.92 444.33,295.91 444.50,295.89 C444.67,295.87 444.83,295.82 445.00,295.75 C445.17,295.68 445.33,295.59 445.50,295.48 C445.67,295.37 445.83,295.23 446.00,295.07 C446.17,294.91 446.33,294.73 446.50,294.54 C446.67,294.35 446.83,294.14 447.00,293.93 C447.17,293.72 447.33,293.49 447.50,293.28 C447.67,293.07 447.83,292.86 448.00,292.68 C448.17,292.50 448.33,292.33 448.50,292.21 C448.67,292.09 448.83,292.00 449.00,291.95 C449.17,291.90 449.33,291.89 449.50,291.92 C449.67,291.95 449.83,292.03 450.00,292.14 C450.17,292.25 450.33,292.40 450.50,292.57 C450.67,292.74 450.83,292.95 451.00,293.15 C451.17,293.35 451.33,293.57 451.50,293.78 C451.67,293.98 451.83,294.19 452.00,294.38 C452.17,294.56 452.33,294.75 452.50,294.89 C452.67,295.03 452.83,295.16 453.00,295.25 C453.17,295.34 453.33,295.39 453.50,295.41 C453.67,295.43 453.83,295.42 454.00,295.36 C454.17,295.30 454.33,295.21 454.50,295.07 C454.67,294.93 454.83,294.75 455.00,294.52 C455.17,294.29 455.33,294.01 455.50,293.70 C455.67,293.38 455.83,293.01 456.00,292.63 C456.17,292.25 456.33,291.81 456.50,291.39 C456.67,290.97 456.83,290.51 457.00,290.09 C457.17,289.67 457.33,289.24 457.50,288.88 C457.67,288.52 457.83,288.19 458.00,287.94 C458.17,287.69 458.33,287.49 458.50,287.39 C458.67,287.29 458.83,287.27 459.00,287.34 C459.17,287.41 459.33,287.57 459.50,287.79 C459.67,288.01 459.83,288.33 460.00,288.67 C460.17,289.01 460.33,289.43 460.50,289.84 C460.67,290.25 460.83,290.70 461.00,291.13 C461.17,291.56 461.33,292.00 461.50,292.39 C461.67,292.78 461.83,293.16 462.00,293.48 C462.17,293.81 462.33,294.10 462.50,294.34 C462.67,294.58 462.83,294.78 463.00,294.93 C463.17,295.08 463.33,295.19 463.50,295.25 C463.67,295.31 463.83,295.33 464.00,295.31 C464.17,295.29 464.33,295.23 464.50,295.14 C464.67,295.05 464.83,294.92 465.00,294.77 C465.17,294.62 465.33,294.44 465.50,294.25 C465.67,294.06 465.83,293.85 466.00,293.65 C466.17,293.44 466.33,293.22 466.50,293.02 C466.67,292.82 466.83,292.63 467.00,292.47 C467.17,292.31 467.33,292.18 467.50,292.08 C467.67,291.98 467.83,291.92 468.00,291.90 C468.17,291.88 468.33,291.91 468.50,291.98 C468.67,292.05 468.83,292.16 469.00,292.30 C469.17,292.44 469.33,292.62 469.50,292.80 C469.67,292.99 469.83,293.20 470.00,293.41 C470.17,293.62 470.33,293.85 470.50,294.06 C470.67,294.27 470.83,294.48 471.00,294.66 C471.17,294.85 471.33,295.02 471.50,295.17 C471.67,295.32 471.83,295.45 472.00,295.56 C472.17,295.67 472.33,295.76 472.50,295.83 C472.67,295.90 472.83,295.95 473.00,295.98 C473.17,296.01 473.33,296.02 473.50,296.01 C473.67,296.00 473.83,295.98 474.00,295.94 C474.17,295.90 474.33,295.84 474.50,295.77 C474.67,295.70 474.83,295.61 475.00,295.51 C475.17,295.41 475.33,295.29 475.50,295.16 C475.67,295.03 475.83,294.89 476.00,294.75 C476.17,294.61 476.33,294.46 476.50,294.32 C476.67,294.18 476.83,294.04 477.00,293.92 C477.17,293.80 477.33,293.69 477.50,293.61 C477.67,293.53 477.83,293.46 478.00,293.43 C478.17,293.40 478.33,293.39 478.50,293.41 C478.67,293.43 478.83,293.49 479.00,293.56 C479.17,293.63 479.33,293.74 479.50,293.85 C479.67,293.96 479.83,294.11 480.00,294.24 C480.17,294.38 480.33,294.52 480.50,294.66 C480.67,294.80 480.83,294.94 481.00,295.07 C481.17,295.20 481.33,295.33 481.50,295.43 C481.67,295.53 481.83,295.62 482.00,295.69 C482.17,295.76 482.33,295.83 482.50,295.86 C482.67,295.89 482.83,295.91 483.00,295.90 C483.17,295.89 483.33,295.87 483.50,295.82 C483.67,295.77 483.83,295.70 484.00,295.61 C484.17,295.52 484.33,295.40 484.50,295.26 C484.67,295.12 484.83,294.95 485.00,294.77 C485.17,294.59 485.33,294.37 485.50,294.16 C485.67,293.95 485.83,293.72 486.00,293.49 C486.17,293.26 486.33,293.02 486.50,292.81 C486.67,292.60 486.83,292.38 487.00,292.21 C487.17,292.04 487.33,291.89 487.50,291.79 C487.67,291.69 487.83,291.63 488.00,291.61 C488.17,291.59 488.33,291.62 488.50,291.69 C488.67,291.76 488.83,291.88 489.00,292.02 C489.17,292.16 489.33,292.36 489.50,292.56 C489.67,292.76 489.83,292.99 490.00,293.21 C490.17,293.43 490.33,293.68 490.50,293.90 C490.67,294.12 490.83,294.34 491.00,294.54 C491.17,294.74 491.33,294.93 491.50,295.09 C491.67,295.25 491.83,295.38 492.00,295.50 C492.17,295.62 492.33,295.72 492.50,295.79 C492.67,295.87 492.83,295.91 493.00,295.95 C493.17,295.99 493.33,296.00 493.50,296.00 C493.67,296.00 493.83,295.99 494.00,295.96 C494.17,295.93 494.33,295.88 494.50,295.83 C494.67,295.78 494.83,295.71 495.00,295.64 C495.17,295.57 495.33,295.48 495.50,295.40 C495.67,295.32 495.83,295.23 496.00,295.15 C496.17,295.07 496.33,294.98 496.50,294.91 C496.67,294.84 496.83,294.78 497.00,294.73 C497.17,294.68 497.33,294.64 497.50,294.62 C497.67,294.60 497.83,294.60 498.00,294.61 C498.17,294.62 498.33,294.66 498.50,294.70 C498.67,294.74 498.83,294.80 499.00,294.87 C499.17,294.94 499.33,295.02 499.50,295.10 C499.67,295.18 499.83,295.28 500.00,295.36 C500.17,295.44 500.33,295.53 500.50,295.61 C500.67,295.69 500.83,295.76 501.00,295.83 C501.17,295.90 501.33,295.96 501.50,296.01 C501.67,296.06 501.83,296.10 502.00,296.14 C502.17,296.18 502.33,296.21 502.50,296.23 C502.67,296.25 502.83,296.27 503.00,296.28 C503.17,296.29 503.33,296.29 503.50,296.29 C503.67,296.29 503.83,296.29 504.00,296.28 C504.17,296.27 504.33,296.25 504.50,296.24 C504.67,296.23 504.83,296.22 505.00,296.20 C505.17,296.18 505.33,296.16 505.50,296.14 C505.67,296.12 505.83,296.11 506.00,296.09 C506.17,296.07 506.33,296.05 506.50,296.04 C506.67,296.03 506.83,296.02 507.00,296.01 C507.17,296.00 507.33,296.00 507.50,296.00 C507.67,296.00 507.83,296.00 508.00,296.01 C508.17,296.02 508.33,296.03 508.50,296.04 C508.67,296.05 508.83,296.07 509.00,296.09 C509.17,296.11 509.33,296.13 509.50,296.15 C509.67,296.17 509.83,296.18 510.00,296.20 C510.17,296.22 510.33,296.24 510.50,296.25 C510.67,296.26 510.83,296.28 511.00,296.29 C511.17,296.30 511.33,296.31 511.50,296.32 C511.67,296.33 511.83,296.34 512.00,296.34 C512.17,296.34 512.33,296.34 512.50,296.34 C512.67,296.34 512.83,296.33 513.00,296.32 C513.17,296.31 513.33,296.30 513.50,296.29 C513.67,296.28 513.83,296.26 514.00,296.24 C514.17,296.22 514.33,296.20 514.50,296.18 C514.67,296.16 514.83,296.13 515.00,296.11 C515.17,296.09 515.33,296.06 515.50,296.04 C515.67,296.02 515.83,296.00 516.00,295.98 C516.17,295.96 516.33,295.94 516.50,295.93 C516.67,295.92 516.83,295.90 517.00,295.90 C517.17,295.90 517.33,295.90 517.50,295.91 C517.67,295.92 517.83,295.93 518.00,295.94 C518.17,295.95 518.33,295.97 518.50,295.99 C518.67,296.01 518.83,296.03 519.00,296.05 C519.17,296.07 519.33,296.11 519.50,296.13 C519.67,296.15 519.83,296.17 520.00,296.19 C520.17,296.21 520.33,296.23 520.50,296.25 C520.67,296.27 520.83,296.29 521.00,296.30 C521.17,296.31 521.33,296.33 521.50,296.34 C521.67,296.35 521.83,296.35 522.00,296.36 C522.17,296.37 522.33,296.38 522.50,296.38 C522.67,296.38 522.83,296.39 523.00,296.39 C523.17,296.39 523.33,296.39 523.50,296.39 C523.67,296.39 523.83,296.40 524.00,296.40 C524.17,296.40 524.33,296.40 524.50,296.40 C524.67,296.40 524.83,296.40 525.00,296.40 C525.17,296.40 525.33,296.40 525.50,296.40 C525.67,296.40 525.83,296.40 526.00,296.40 C526.17,296.40 526.33,296.40 526.50,296.40 C526.67,296.40 526.83,296.40 527.00,296.40 C527.17,296.40 527.33,296.40 527.50,296.40 C527.67,296.40 527.83,296.40 528.00,296.40 C528.17,296.40 528.33,296.40 528.50,296.40 C528.67,296.40 528.83,296.40 529.00,296.40 C529.17,296.40 529.33,296.40 529.50,296.40 C529.67,296.40 529.92,296.40 530.00,296.40" stroke="#0b5cb3" stroke-width="2" fill="none" stroke-linejoin="round"/>
<rect x="400.5" y="260.5" width="130.00" height="38.10" fill="none" stroke="#3c3c3c" stroke-width="1"/>
<g clip-path="url(#ic6)"><g filter="url(#fjet)"><rect x="432.0" y="253.8" width="104.5" height="27.0" fill="#000"/><ellipse cx="442.2" cy="267.2" rx="2.1" ry="2.1" fill="rgb(209,209,209)" style="mix-blend-mode:lighten"/><ellipse cx="449.5" cy="267.2" rx="2.1" ry="2.1" fill="rgb(224,224,224)" style="mix-blend-mode:lighten"/><ellipse cx="457.0" cy="267.2" rx="2.0" ry="2.0" fill="rgb(120,120,120)" style="mix-blend-mode:lighten"/><ellipse cx="464.3" cy="267.2" rx="2.0" ry="2.0" fill="rgb(102,102,102)" style="mix-blend-mode:lighten"/><ellipse cx="471.4" cy="267.2" rx="2.0" ry="2.0" fill="rgb(112,112,112)" style="mix-blend-mode:lighten"/><ellipse cx="478.7" cy="267.2" rx="2.1" ry="2.1" fill="rgb(247,247,247)" style="mix-blend-mode:lighten"/><ellipse cx="486.0" cy="267.2" rx="2.0" ry="2.0" fill="rgb(102,102,102)" style="mix-blend-mode:lighten"/><ellipse cx="493.5" cy="267.2" rx="1.8" ry="1.8" fill="rgb(66,66,66)" style="mix-blend-mode:lighten"/><ellipse cx="500.8" cy="267.2" rx="2.0" ry="2.0" fill="rgb(112,112,112)" style="mix-blend-mode:lighten"/><ellipse cx="507.9" cy="267.2" rx="1.7" ry="1.7" fill="rgb(48,48,48)" style="mix-blend-mode:lighten"/><ellipse cx="522.9" cy="267.2" rx="1.5" ry="1.5" fill="rgb(26,26,26)" style="mix-blend-mode:lighten"/></g></g>
<text x="521.6" y="288.1" font-size="12.9" fill="#141414" text-anchor="end" stroke="#141414" stroke-width="0.25"><tspan font-style="italic">U</tspan> / <tspan font-style="italic">K</tspan> = 0</text>
<path d="M538.9,225.40 h6 M538.9,238.40 h3.5 M538.9,251.40 h6 M551.50,253.7 v-6 M589.58,253.7 v-6 M627.66,253.7 v-6 M665.74,253.7 v-6" stroke="#3c3c3c" stroke-width="1" fill="none"/>
<path d="M543.60,241.30 C543.87,241.17 544.68,240.23 545.20,240.50 C545.72,240.77 546.20,243.27 546.70,242.90 C547.20,242.53 547.68,239.67 548.20,238.30 C548.72,236.93 549.28,235.82 549.80,234.70 C550.32,233.58 550.80,231.77 551.30,231.60 C551.80,231.43 552.30,232.83 552.80,233.70 C553.30,234.57 553.78,236.00 554.30,236.80 C554.82,237.60 555.38,238.77 555.90,238.50 C556.42,238.23 556.88,235.58 557.40,235.20 C557.92,234.82 558.57,236.28 559.00,236.20 C559.43,236.12 559.58,234.52 560.00,234.70 C560.42,234.88 561.00,237.63 561.50,237.30 C562.00,236.97 562.48,233.05 563.00,232.70 C563.52,232.35 564.08,234.35 564.60,235.20 C565.12,236.05 565.60,237.12 566.10,237.80 C566.60,238.48 567.08,238.62 567.60,239.30 C568.12,239.98 568.72,242.32 569.20,241.90 C569.68,241.48 570.08,236.98 570.50,236.80 C570.92,236.62 571.15,239.45 571.70,240.80 C572.25,242.15 573.20,244.82 573.80,244.90 C574.40,244.98 574.80,242.15 575.30,241.30 C575.80,240.45 576.28,240.13 576.80,239.80 C577.32,239.47 577.88,238.95 578.40,239.30 C578.92,239.65 579.40,240.97 579.90,241.90 C580.40,242.83 580.88,243.88 581.40,244.90 C581.92,245.92 582.48,247.32 583.00,248.00 C583.52,248.68 584.00,249.25 584.50,249.00 C585.00,248.75 585.42,247.02 586.00,246.50 C586.58,245.98 587.32,245.65 588.00,245.90 C588.68,246.15 589.40,247.82 590.10,248.00 C590.80,248.18 591.52,246.92 592.20,247.00 C592.88,247.08 593.35,248.50 594.20,248.50 C595.05,248.50 596.45,247.08 597.30,247.00 C598.15,246.92 598.45,248.08 599.30,248.00 C600.15,247.92 601.38,246.42 602.40,246.50 C603.42,246.58 604.47,248.25 605.40,248.50 C606.33,248.75 607.41,248.22 608.00,248.00 C608.59,247.78 608.61,247.18 608.92,247.15 C609.22,247.12 609.53,247.79 609.83,247.82 C610.14,247.85 610.44,247.43 610.75,247.32 C611.06,247.20 611.36,247.05 611.67,247.15 C611.97,247.25 612.28,247.59 612.58,247.91 C612.89,248.23 613.19,248.91 613.50,249.07 C613.81,249.22 614.11,248.88 614.42,248.84 C614.72,248.79 615.03,248.99 615.33,248.78 C615.64,248.58 615.94,247.69 616.25,247.61 C616.56,247.54 616.86,248.30 617.17,248.33 C617.47,248.36 617.78,247.91 618.08,247.78 C618.39,247.66 618.69,247.63 619.00,247.58 C619.31,247.53 619.61,247.43 619.92,247.46 C620.22,247.48 620.53,247.41 620.83,247.72 C621.14,248.03 621.44,249.08 621.75,249.32 C622.06,249.55 622.36,249.16 622.67,249.12 C622.97,249.09 623.28,249.10 623.58,249.10 C623.89,249.10 624.19,249.33 624.50,249.11 C624.81,248.89 625.11,247.97 625.42,247.80 C625.72,247.63 626.03,247.91 626.33,248.08 C626.64,248.25 626.94,248.64 627.25,248.80 C627.56,248.97 627.86,248.97 628.17,249.06 C628.47,249.15 628.78,249.29 629.08,249.36 C629.39,249.42 629.70,249.71 630.00,249.44 C630.30,249.16 630.61,247.80 630.91,247.71 C631.21,247.61 631.52,248.65 631.82,248.87 C632.12,249.09 632.42,249.06 632.73,249.03 C633.03,249.00 633.33,248.86 633.64,248.69 C633.94,248.51 634.24,247.99 634.55,247.98 C634.85,247.98 635.15,248.68 635.45,248.65 C635.76,248.62 636.06,247.65 636.36,247.82 C636.67,248.00 636.97,249.41 637.27,249.70 C637.58,249.99 637.88,249.70 638.18,249.57 C638.48,249.43 638.79,249.09 639.09,248.89 C639.39,248.69 639.70,248.22 640.00,248.36 C640.30,248.50 640.61,249.61 640.91,249.72 C641.21,249.82 641.52,249.00 641.82,249.00 C642.12,248.99 642.42,249.59 642.73,249.70 C643.03,249.80 643.33,249.77 643.64,249.64 C643.94,249.51 644.24,249.06 644.55,248.91 C644.85,248.76 645.15,248.68 645.45,248.72 C645.76,248.76 646.06,249.13 646.36,249.14 C646.67,249.16 646.97,248.95 647.27,248.79 C647.58,248.64 647.88,248.26 648.18,248.22 C648.48,248.18 648.79,248.31 649.09,248.55 C649.39,248.80 649.68,249.79 650.00,249.69 C650.32,249.58 650.67,248.22 651.00,247.91 C651.33,247.60 651.67,247.65 652.00,247.84 C652.33,248.02 652.67,248.97 653.00,249.03 C653.33,249.09 653.67,248.25 654.00,248.18 C654.33,248.12 654.67,248.62 655.00,248.66 C655.33,248.70 655.67,248.78 656.00,248.44 C656.33,248.09 656.67,246.92 657.00,246.59 C657.33,246.26 657.67,247.04 658.00,246.46 C658.33,245.88 658.67,243.19 659.00,243.13 C659.33,243.07 659.67,245.27 660.00,246.11 C660.33,246.94 660.67,247.64 661.00,248.15 C661.33,248.66 661.67,249.11 662.00,249.16 C662.33,249.21 662.67,248.53 663.00,248.45 C663.33,248.37 663.67,248.50 664.00,248.70 C664.33,248.89 664.67,249.62 665.00,249.63 C665.33,249.64 665.67,248.81 666.00,248.76 C666.33,248.72 666.67,249.27 667.00,249.36 C667.33,249.45 667.83,249.31 668.00,249.30" stroke="#ff5055" stroke-width="2" fill="none" stroke-linejoin="round"/>
<rect x="538.9" y="215.6" width="129.40" height="38.10" fill="none" stroke="#3c3c3c" stroke-width="1"/>
<g clip-path="url(#ic7)"><g filter="url(#fhot)"><rect x="569.9" y="209.0" width="104.4" height="26.5" fill="#000"/><ellipse cx="583" cy="222.6" rx="12.5" ry="8.5" fill="rgb(21,21,21)" style="mix-blend-mode:lighten"/><ellipse cx="583" cy="222.6" rx="10.714285714285715" ry="7.2857142857142865" fill="rgb(35,35,35)" style="mix-blend-mode:lighten"/><ellipse cx="583" cy="222.6" rx="8.928571428571429" ry="6.071428571428571" fill="rgb(55,55,55)" style="mix-blend-mode:lighten"/><ellipse cx="583" cy="222.6" rx="7.142857142857142" ry="4.857142857142857" fill="rgb(80,80,80)" style="mix-blend-mode:lighten"/><ellipse cx="583" cy="222.6" rx="5.357142857142858" ry="3.6428571428571432" fill="rgb(106,106,106)" style="mix-blend-mode:lighten"/><ellipse cx="583" cy="222.6" rx="3.571428571428571" ry="2.4285714285714284" fill="rgb(130,130,130)" style="mix-blend-mode:lighten"/><ellipse cx="583" cy="222.6" rx="1.7857142857142863" ry="1.2142857142857146" fill="rgb(147,147,147)" style="mix-blend-mode:lighten"/><ellipse cx="581" cy="223.5" rx="6.5" ry="5.5" fill="rgb(20,20,20)" style="mix-blend-mode:lighten"/><ellipse cx="581" cy="223.5" rx="4.875" ry="4.125" fill="rgb(48,48,48)" style="mix-blend-mode:lighten"/><ellipse cx="581" cy="223.5" rx="3.25" ry="2.75" fill="rgb(90,90,90)" style="mix-blend-mode:lighten"/><ellipse cx="581" cy="223.5" rx="1.625" ry="1.375" fill="rgb(131,131,131)" style="mix-blend-mode:lighten"/><ellipse cx="588.8" cy="225.5" rx="0.7" ry="0.7" fill="rgb(105,105,105)" style="mix-blend-mode:lighten"/><ellipse cx="594.9" cy="225.5" rx="0.7" ry="0.7" fill="rgb(84,84,84)" style="mix-blend-mode:lighten"/><ellipse cx="577.6" cy="222.4" rx="0.7" ry="0.7" fill="rgb(156,156,156)" style="mix-blend-mode:lighten"/><ellipse cx="589.3" cy="227.4" rx="0.7" ry="0.7" fill="rgb(82,82,82)" style="mix-blend-mode:lighten"/><ellipse cx="585.9" cy="219.8" rx="0.7" ry="0.7" fill="rgb(110,110,110)" style="mix-blend-mode:lighten"/><ellipse cx="587.9" cy="217.2" rx="0.7" ry="0.7" fill="rgb(89,89,89)" style="mix-blend-mode:lighten"/><ellipse cx="582.3" cy="227.5" rx="0.7" ry="0.7" fill="rgb(130,130,130)" style="mix-blend-mode:lighten"/><ellipse cx="580.0" cy="226.2" rx="0.7" ry="0.7" fill="rgb(120,120,120)" style="mix-blend-mode:lighten"/><ellipse cx="588.7" cy="218.5" rx="0.7" ry="0.7" fill="rgb(79,79,79)" style="mix-blend-mode:lighten"/><ellipse cx="593.6" cy="219.4" rx="0.7" ry="0.7" fill="rgb(66,66,66)" style="mix-blend-mode:lighten"/><ellipse cx="595.7" cy="227.0" rx="0.7" ry="0.7" fill="rgb(61,61,61)" style="mix-blend-mode:lighten"/><ellipse cx="595.3" cy="223.2" rx="0.7" ry="0.7" fill="rgb(76,76,76)" style="mix-blend-mode:lighten"/><ellipse cx="580.9" cy="227.8" rx="0.7" ry="0.7" fill="rgb(135,135,135)" style="mix-blend-mode:lighten"/><ellipse cx="595.4" cy="227.3" rx="0.7" ry="0.7" fill="rgb(64,64,64)" style="mix-blend-mode:lighten"/><ellipse cx="583.9" cy="218.9" rx="0.7" ry="0.7" fill="rgb(105,105,105)" style="mix-blend-mode:lighten"/><ellipse cx="578.2" cy="220.5" rx="0.7" ry="0.7" fill="rgb(143,143,143)" style="mix-blend-mode:lighten"/><ellipse cx="577.1" cy="224.8" rx="0.7" ry="0.7" fill="rgb(138,138,138)" style="mix-blend-mode:lighten"/><ellipse cx="582.9" cy="226.4" rx="0.7" ry="0.7" fill="rgb(120,120,120)" style="mix-blend-mode:lighten"/><ellipse cx="583.0" cy="222.5" rx="0.7" ry="0.7" fill="rgb(128,128,128)" style="mix-blend-mode:lighten"/><ellipse cx="578.1" cy="228.2" rx="0.7" ry="0.7" fill="rgb(125,125,125)" style="mix-blend-mode:lighten"/><ellipse cx="591.2" cy="226.7" rx="0.7" ry="0.7" fill="rgb(69,69,69)" style="mix-blend-mode:lighten"/><ellipse cx="592.0" cy="221.2" rx="0.7" ry="0.7" fill="rgb(87,87,87)" style="mix-blend-mode:lighten"/><ellipse cx="578.9" cy="224.4" rx="1.5" ry="1.7" fill="rgb(173,173,173)" style="mix-blend-mode:lighten"/><ellipse cx="585.1" cy="223.7" rx="1.5" ry="1.7" fill="rgb(166,166,166)" style="mix-blend-mode:lighten"/><ellipse cx="581.5" cy="220.3" rx="1.2" ry="1.2" fill="rgb(140,140,140)" style="mix-blend-mode:lighten"/></g></g>
<text x="663.5" y="241.9" font-size="12.9" fill="#141414" text-anchor="end" stroke="#141414" stroke-width="0.25"><tspan font-style="italic">U</tspan> / <tspan font-style="italic">K</tspan> = 4.8</text>
<text x="548.5" y="314.5" font-size="12.3" text-anchor="middle" fill="#141414" stroke="#141414" stroke-width="0.25">0</text>
<text x="587.62" y="314.5" font-size="12.3" text-anchor="middle" fill="#141414" stroke="#141414" stroke-width="0.25">4</text>
<text x="626.74" y="314.5" font-size="12.3" text-anchor="middle" fill="#141414" stroke="#141414" stroke-width="0.25">8</text>
<text x="665.86" y="314.5" font-size="12.3" text-anchor="middle" fill="#141414" stroke="#141414" stroke-width="0.25">12</text>
<path d="M538.9,270.40 h6 M538.9,283.40 h3.5 M538.9,296.40 h6 M548.50,298.7 v-6 M587.62,298.7 v-6 M626.74,298.7 v-6 M665.86,298.7 v-6" stroke="#3c3c3c" stroke-width="1" fill="none"/>
<path d="M541.00,296.37 C541.08,296.36 541.33,296.34 541.50,296.32 C541.67,296.30 541.83,296.28 542.00,296.24 C542.17,296.20 542.33,296.16 542.50,296.09 C542.67,296.02 542.83,295.95 543.00,295.83 C543.17,295.71 543.33,295.57 543.50,295.39 C543.67,295.21 543.83,295.00 544.00,294.74 C544.17,294.48 544.33,294.17 544.50,293.80 C544.67,293.44 544.83,293.01 545.00,292.55 C545.17,292.09 545.33,291.56 545.50,291.02 C545.67,290.48 545.83,289.87 546.00,289.29 C546.17,288.71 546.33,288.10 546.50,287.54 C546.67,286.98 546.83,286.41 547.00,285.95 C547.17,285.49 547.33,285.06 547.50,284.76 C547.67,284.46 547.83,284.25 548.00,284.16 C548.17,284.07 548.33,284.09 548.50,284.22 C548.67,284.35 548.83,284.62 549.00,284.96 C549.17,285.30 549.33,285.75 549.50,286.24 C549.67,286.73 549.83,287.31 550.00,287.88 C550.17,288.44 550.33,289.06 550.50,289.63 C550.67,290.20 550.83,290.79 551.00,291.31 C551.17,291.83 551.33,292.32 551.50,292.75 C551.67,293.18 551.83,293.56 552.00,293.87 C552.17,294.18 552.33,294.43 552.50,294.62 C552.67,294.81 552.83,294.94 553.00,295.02 C553.17,295.10 553.33,295.12 553.50,295.09 C553.67,295.06 553.83,294.98 554.00,294.85 C554.17,294.72 554.33,294.53 554.50,294.32 C554.67,294.11 554.83,293.84 555.00,293.56 C555.17,293.28 555.33,292.94 555.50,292.62 C555.67,292.30 555.83,291.94 556.00,291.61 C556.17,291.28 556.33,290.93 556.50,290.63 C556.67,290.33 556.83,290.05 557.00,289.83 C557.17,289.61 557.33,289.43 557.50,289.33 C557.67,289.23 557.83,289.18 558.00,289.21 C558.17,289.24 558.33,289.34 558.50,289.49 C558.67,289.64 558.83,289.87 559.00,290.12 C559.17,290.37 559.33,290.69 559.50,291.00 C559.67,291.31 559.83,291.68 560.00,292.01 C560.17,292.34 560.33,292.69 560.50,292.99 C560.67,293.30 560.83,293.59 561.00,293.84 C561.17,294.08 561.33,294.30 561.50,294.46 C561.67,294.62 561.83,294.73 562.00,294.78 C562.17,294.82 562.33,294.82 562.50,294.73 C562.67,294.64 562.83,294.50 563.00,294.26 C563.17,294.02 563.33,293.72 563.50,293.31 C563.67,292.90 563.83,292.41 564.00,291.83 C564.17,291.25 564.33,290.56 564.50,289.82 C564.67,289.07 564.83,288.23 565.00,287.36 C565.17,286.49 565.33,285.53 565.50,284.62 C565.67,283.71 565.83,282.74 566.00,281.88 C566.17,281.02 566.33,280.17 566.50,279.49 C566.67,278.81 566.83,278.19 567.00,277.78 C567.17,277.37 567.33,277.09 567.50,277.02 C567.67,276.95 567.83,277.07 568.00,277.35 C568.17,277.63 568.33,278.11 568.50,278.70 C568.67,279.29 568.83,280.07 569.00,280.87 C569.17,281.67 569.33,282.62 569.50,283.52 C569.67,284.42 569.83,285.40 570.00,286.30 C570.17,287.20 570.33,288.11 570.50,288.92 C570.67,289.73 570.83,290.49 571.00,291.16 C571.17,291.83 571.33,292.42 571.50,292.93 C571.67,293.44 571.83,293.86 572.00,294.22 C572.17,294.58 572.33,294.86 572.50,295.10 C572.67,295.34 572.83,295.50 573.00,295.64 C573.17,295.78 573.33,295.87 573.50,295.95 C573.67,296.03 573.83,296.07 574.00,296.10 C574.17,296.13 574.33,296.14 574.50,296.15 C574.67,296.16 574.83,296.15 575.00,296.14 C575.17,296.13 575.33,296.12 575.50,296.11 C575.67,296.10 575.83,296.07 576.00,296.06 C576.17,296.05 576.33,296.04 576.50,296.03 C576.67,296.02 576.83,296.00 577.00,296.00 C577.17,296.00 577.33,296.00 577.50,296.00 C577.67,296.00 577.83,296.01 578.00,296.02 C578.17,296.03 578.33,296.05 578.50,296.06 C578.67,296.07 578.83,296.09 579.00,296.11 C579.17,296.13 579.33,296.15 579.50,296.17 C579.67,296.19 579.83,296.21 580.00,296.22 C580.17,296.24 580.33,296.25 580.50,296.26 C580.67,296.27 580.83,296.29 581.00,296.29 C581.17,296.30 581.33,296.30 581.50,296.29 C581.67,296.28 581.83,296.27 582.00,296.25 C582.17,296.23 582.33,296.22 582.50,296.18 C582.67,296.14 582.83,296.10 583.00,296.04 C583.17,295.98 583.33,295.92 583.50,295.84 C583.67,295.76 583.83,295.67 584.00,295.56 C584.17,295.45 584.33,295.33 584.50,295.20 C584.67,295.07 584.83,294.93 585.00,294.79 C585.17,294.65 585.33,294.48 585.50,294.34 C585.67,294.19 585.83,294.05 586.00,293.92 C586.17,293.79 586.33,293.66 586.50,293.57 C586.67,293.48 586.83,293.41 587.00,293.36 C587.17,293.31 587.33,293.29 587.50,293.30 C587.67,293.31 587.83,293.35 588.00,293.42 C588.17,293.49 588.33,293.59 588.50,293.70 C588.67,293.81 588.83,293.94 589.00,294.08 C589.17,294.22 589.33,294.38 589.50,294.52 C589.67,294.66 589.83,294.81 590.00,294.95 C590.17,295.09 590.33,295.22 590.50,295.34 C590.67,295.45 590.83,295.55 591.00,295.64 C591.17,295.73 591.33,295.80 591.50,295.86 C591.67,295.92 591.83,295.96 592.00,295.98 C592.17,296.00 592.33,296.01 592.50,296.00 C592.67,295.99 592.83,295.97 593.00,295.94 C593.17,295.91 593.33,295.86 593.50,295.80 C593.67,295.74 593.83,295.68 594.00,295.60 C594.17,295.53 594.33,295.44 594.50,295.35 C594.67,295.26 594.83,295.17 595.00,295.08 C595.17,294.99 595.33,294.90 595.50,294.83 C595.67,294.75 595.83,294.68 596.00,294.63 C596.17,294.58 596.33,294.54 596.50,294.52 C596.67,294.50 596.83,294.50 597.00,294.51 C597.17,294.52 597.33,294.55 597.50,294.60 C597.67,294.65 597.83,294.72 598.00,294.79 C598.17,294.86 598.33,294.94 598.50,295.03 C598.67,295.11 598.83,295.21 599.00,295.30 C599.17,295.39 599.33,295.47 599.50,295.55 C599.67,295.63 599.83,295.71 600.00,295.78 C600.17,295.84 600.33,295.90 600.50,295.94 C600.67,295.98 600.83,296.02 601.00,296.04 C601.17,296.06 601.33,296.06 601.50,296.06 C601.67,296.06 601.83,296.04 602.00,296.01 C602.17,295.98 602.33,295.94 602.50,295.89 C602.67,295.84 602.83,295.77 603.00,295.70 C603.17,295.63 603.33,295.55 603.50,295.46 C603.67,295.37 603.83,295.27 604.00,295.18 C604.17,295.09 604.33,294.99 604.50,294.90 C604.67,294.81 604.83,294.73 605.00,294.66 C605.17,294.59 605.33,294.52 605.50,294.48 C605.67,294.44 605.83,294.41 606.00,294.40 C606.17,294.39 606.33,294.41 606.50,294.44 C606.67,294.47 606.83,294.52 607.00,294.58 C607.17,294.64 607.33,294.72 607.50,294.80 C607.67,294.88 607.83,294.98 608.00,295.07 C608.17,295.16 608.33,295.27 608.50,295.36 C608.67,295.45 608.83,295.55 609.00,295.63 C609.17,295.71 609.33,295.78 609.50,295.85 C609.67,295.92 609.83,295.98 610.00,296.03 C610.17,296.08 610.33,296.11 610.50,296.14 C610.67,296.17 610.83,296.19 611.00,296.20 C611.17,296.21 611.33,296.22 611.50,296.21 C611.67,296.20 611.83,296.19 612.00,296.16 C612.17,296.14 612.33,296.10 612.50,296.06 C612.67,296.02 612.83,295.97 613.00,295.91 C613.17,295.85 613.33,295.77 613.50,295.70 C613.67,295.62 613.83,295.54 614.00,295.46 C614.17,295.38 614.33,295.28 614.50,295.20 C614.67,295.12 614.83,295.03 615.00,294.96 C615.17,294.89 615.33,294.81 615.50,294.76 C615.67,294.70 615.83,294.66 616.00,294.63 C616.17,294.60 616.33,294.59 616.50,294.60 C616.67,294.61 616.83,294.63 617.00,294.67 C617.17,294.71 617.33,294.77 617.50,294.83 C617.67,294.89 617.83,294.97 618.00,295.05 C618.17,295.13 618.33,295.22 618.50,295.30 C618.67,295.38 618.83,295.48 619.00,295.56 C619.17,295.64 619.33,295.71 619.50,295.78 C619.67,295.84 619.83,295.90 620.00,295.95 C620.17,296.00 620.33,296.03 620.50,296.06 C620.67,296.09 620.83,296.11 621.00,296.11 C621.17,296.11 621.33,296.10 621.50,296.08 C621.67,296.06 621.83,296.03 622.00,295.98 C622.17,295.93 622.33,295.87 622.50,295.80 C622.67,295.73 622.83,295.64 623.00,295.55 C623.17,295.46 623.33,295.34 623.50,295.23 C623.67,295.12 623.83,295.00 624.00,294.88 C624.17,294.76 624.33,294.64 624.50,294.53 C624.67,294.42 624.83,294.31 625.00,294.22 C625.17,294.13 625.33,294.05 625.50,294.00 C625.67,293.95 625.83,293.91 626.00,293.90 C626.17,293.89 626.33,293.90 626.50,293.94 C626.67,293.98 626.83,294.04 627.00,294.12 C627.17,294.20 627.33,294.30 627.50,294.40 C627.67,294.50 627.83,294.62 628.00,294.74 C628.17,294.86 628.33,294.99 628.50,295.10 C628.67,295.22 628.83,295.33 629.00,295.43 C629.17,295.53 629.33,295.63 629.50,295.71 C629.67,295.79 629.83,295.86 630.00,295.92 C630.17,295.98 630.33,296.02 630.50,296.06 C630.67,296.10 630.83,296.12 631.00,296.13 C631.17,296.14 631.33,296.13 631.50,296.12 C631.67,296.11 631.83,296.09 632.00,296.06 C632.17,296.03 632.33,295.99 632.50,295.94 C632.67,295.89 632.83,295.83 633.00,295.77 C633.17,295.71 633.33,295.64 633.50,295.57 C633.67,295.50 633.83,295.43 634.00,295.36 C634.17,295.29 634.33,295.22 634.50,295.16 C634.67,295.10 634.83,295.04 635.00,295.00 C635.17,294.96 635.33,294.94 635.50,294.92 C635.67,294.91 635.83,294.90 636.00,294.91 C636.17,294.92 636.33,294.94 636.50,294.98 C636.67,295.02 636.83,295.07 637.00,295.13 C637.17,295.19 637.33,295.25 637.50,295.32 C637.67,295.39 637.83,295.46 638.00,295.53 C638.17,295.60 638.33,295.67 638.50,295.74 C638.67,295.81 638.83,295.87 639.00,295.93 C639.17,295.99 639.33,296.04 639.50,296.08 C639.67,296.12 639.83,296.16 640.00,296.19 C640.17,296.22 640.33,296.25 640.50,296.27 C640.67,296.29 640.83,296.30 641.00,296.31 C641.17,296.32 641.33,296.33 641.50,296.33 C641.67,296.33 641.83,296.33 642.00,296.33 C642.17,296.33 642.33,296.32 642.50,296.32 C642.67,296.31 642.83,296.31 643.00,296.30 C643.17,296.29 643.33,296.28 643.50,296.27 C643.67,296.26 643.83,296.25 644.00,296.24 C644.17,296.23 644.33,296.23 644.50,296.22 C644.67,296.22 644.83,296.21 645.00,296.21 C645.17,296.21 645.33,296.20 645.50,296.20 C645.67,296.20 645.83,296.21 646.00,296.21 C646.17,296.21 646.33,296.22 646.50,296.22 C646.67,296.23 646.83,296.23 647.00,296.24 C647.17,296.25 647.33,296.26 647.50,296.27 C647.67,296.28 647.83,296.29 648.00,296.30 C648.17,296.31 648.33,296.31 648.50,296.32 C648.67,296.32 648.83,296.33 649.00,296.33 C649.17,296.33 649.33,296.34 649.50,296.34 C649.67,296.34 649.83,296.33 650.00,296.32 C650.17,296.31 650.33,296.31 650.50,296.29 C650.67,296.28 650.83,296.25 651.00,296.23 C651.17,296.21 651.33,296.18 651.50,296.14 C651.67,296.10 651.83,296.06 652.00,296.02 C652.17,295.97 652.33,295.92 652.50,295.87 C652.67,295.82 652.83,295.76 653.00,295.71 C653.17,295.65 653.33,295.60 653.50,295.54 C653.67,295.49 653.83,295.43 654.00,295.38 C654.17,295.33 654.33,295.29 654.50,295.26 C654.67,295.23 654.83,295.22 655.00,295.21 C655.17,295.20 655.33,295.20 655.50,295.21 C655.67,295.22 655.83,295.25 656.00,295.28 C656.17,295.31 656.33,295.36 656.50,295.41 C656.67,295.46 656.83,295.51 657.00,295.57 C657.17,295.62 657.33,295.68 657.50,295.74 C657.67,295.80 657.83,295.86 658.00,295.91 C658.17,295.96 658.33,296.01 658.50,296.05 C658.67,296.09 658.83,296.14 659.00,296.17 C659.17,296.20 659.33,296.23 659.50,296.25 C659.67,296.27 659.83,296.29 660.00,296.31 C660.17,296.33 660.33,296.34 660.50,296.35 C660.67,296.36 660.83,296.36 661.00,296.37 C661.17,296.38 661.33,296.39 661.50,296.39 C661.67,296.39 661.83,296.39 662.00,296.39 C662.17,296.39 662.33,296.40 662.50,296.40 C662.67,296.40 662.83,296.40 663.00,296.40 C663.17,296.40 663.33,296.40 663.50,296.40 C663.67,296.40 663.83,296.40 664.00,296.40 C664.17,296.40 664.33,296.40 664.50,296.40 C664.67,296.40 664.83,296.40 665.00,296.40 C665.17,296.40 665.33,296.40 665.50,296.40 C665.67,296.40 665.83,296.40 666.00,296.40 C666.17,296.40 666.33,296.40 666.50,296.40 C666.67,296.40 666.83,296.40 667.00,296.40 C667.17,296.40 667.42,296.40 667.50,296.40" stroke="#0b5cb3" stroke-width="2" fill="none" stroke-linejoin="round"/>
<rect x="538.9" y="260.6" width="129.20" height="38.10" fill="none" stroke="#3c3c3c" stroke-width="1"/>
<g clip-path="url(#ic8)"><g filter="url(#fjet)"><rect x="570.0" y="253.8" width="104.1" height="27.1" fill="#000"/><ellipse cx="580.0" cy="267.1" rx="2.1" ry="2.1" fill="rgb(163,163,163)" style="mix-blend-mode:lighten"/><ellipse cx="587.3" cy="267.1" rx="2.0" ry="2.0" fill="rgb(110,110,110)" style="mix-blend-mode:lighten"/><ellipse cx="595.0" cy="267.1" rx="2.1" ry="2.1" fill="rgb(247,247,247)" style="mix-blend-mode:lighten"/><ellipse cx="601.9" cy="267.1" rx="1.5" ry="1.5" fill="rgb(20,20,20)" style="mix-blend-mode:lighten"/><ellipse cx="609.2" cy="267.1" rx="1.7" ry="1.7" fill="rgb(51,51,51)" style="mix-blend-mode:lighten"/><ellipse cx="616.5" cy="267.1" rx="1.7" ry="1.7" fill="rgb(41,41,41)" style="mix-blend-mode:lighten"/><ellipse cx="624.4" cy="267.1" rx="1.6" ry="1.6" fill="rgb(33,33,33)" style="mix-blend-mode:lighten"/><ellipse cx="631.5" cy="267.1" rx="1.5" ry="1.5" fill="rgb(23,23,23)" style="mix-blend-mode:lighten"/><ellipse cx="638.8" cy="267.1" rx="1.6" ry="1.6" fill="rgb(38,38,38)" style="mix-blend-mode:lighten"/><ellipse cx="645.9" cy="267.1" rx="1.5" ry="1.5" fill="rgb(23,23,23)" style="mix-blend-mode:lighten"/><ellipse cx="660.5" cy="267.1" rx="1.5" ry="1.5" fill="rgb(18,18,18)" style="mix-blend-mode:lighten"/></g></g>
<text x="662.8" y="288.3" font-size="12.9" fill="#141414" text-anchor="end" stroke="#141414" stroke-width="0.25"><tspan font-style="italic">U</tspan> / <tspan font-style="italic">K</tspan> = 4.8</text>
<text transform="translate(10.3,263.6) rotate(-90)" font-size="13" fill="#141414" stroke="#141414" stroke-width="0.25">OD</text>
<text transform="translate(365.0,263.6) rotate(-90)" font-size="13" fill="#141414" stroke="#141414" stroke-width="0.25">OD</text>
<text y="329.2" font-size="12.5" fill="#141414" font-style="italic" stroke="#141414" stroke-width="0.25"><tspan x="94.00">p</tspan><tspan font-size="9.5" dy="2.8">n</tspan><tspan x="105.90" dy="-2.8">/</tspan><tspan x="111.90" font-size="13.4">2</tspan><tspan x="120.00">ħk</tspan></text>
<text y="329.2" font-size="12.5" fill="#141414" font-style="italic" stroke="#141414" stroke-width="0.25"><tspan x="231.40">p</tspan><tspan font-size="9.5" dy="2.8">n</tspan><tspan x="243.30" dy="-2.8">/</tspan><tspan x="249.30" font-size="13.4">2</tspan><tspan x="257.40">ħk</tspan></text>
<text y="329.2" font-size="12.5" fill="#141414" font-style="italic" stroke="#141414" stroke-width="0.25"><tspan x="441.00">p</tspan><tspan font-size="9.5" dy="2.8">n</tspan><tspan x="452.90" dy="-2.8">/</tspan><tspan x="458.90" font-size="13.4">2</tspan><tspan x="467.00">ħk</tspan></text>
<text y="329.2" font-size="12.5" fill="#141414" font-style="italic" stroke="#141414" stroke-width="0.25"><tspan x="579.50">p</tspan><tspan font-size="9.5" dy="2.8">n</tspan><tspan x="591.40" dy="-2.8">/</tspan><tspan x="597.40" font-size="13.4">2</tspan><tspan x="605.50">ħk</tspan></text></svg></body></html>
